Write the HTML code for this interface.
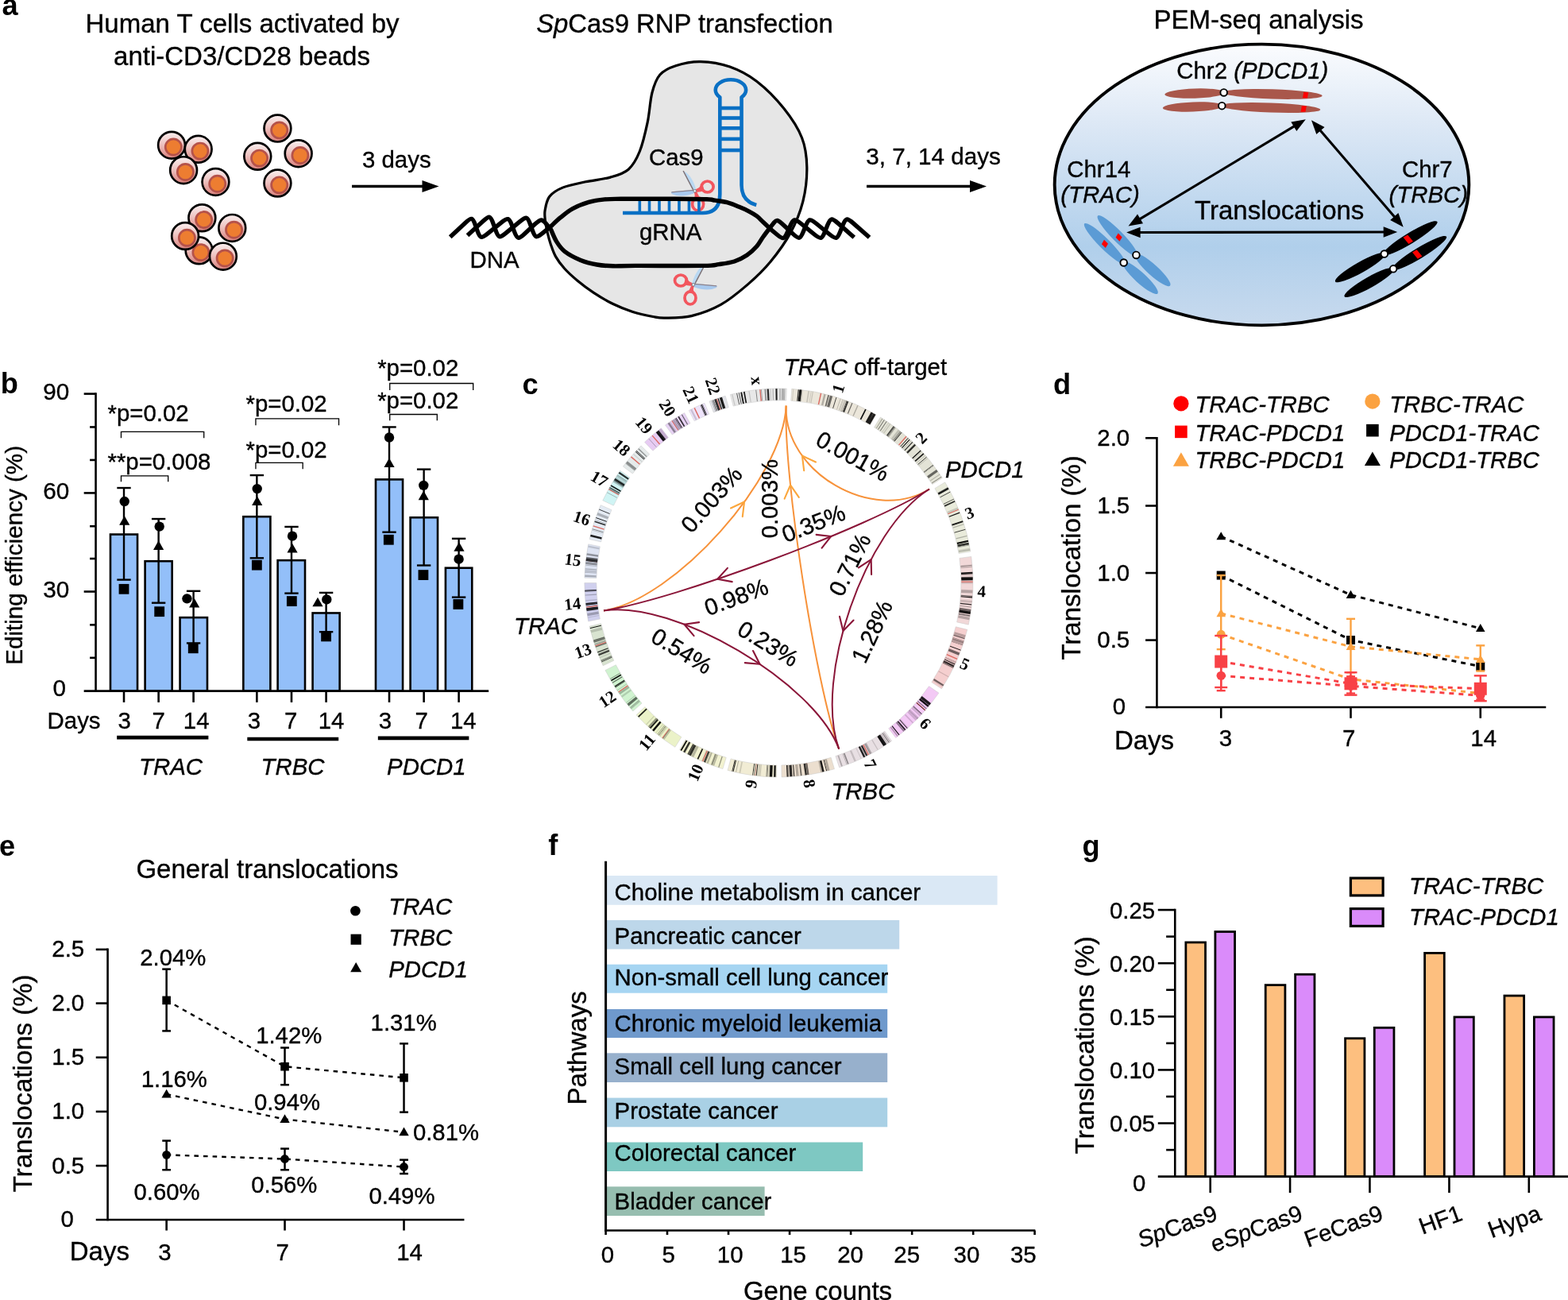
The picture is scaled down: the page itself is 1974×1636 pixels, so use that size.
<!DOCTYPE html>
<html lang="en"><head><meta charset="utf-8"><title>Figure</title>
<style>
html,body{margin:0;padding:0;background:#fff;}
body{width:1974px;height:1636px;overflow:hidden;}
svg{display:block;font-family:"Liberation Sans",Arial,Helvetica,sans-serif;}
text{stroke:#000;stroke-width:0.35px;}
.nb text,text.nb{stroke:none;}
</style></head><body>
<svg width="1974" height="1636" viewBox="0 0 1974 1636">
<rect width="1974" height="1636" fill="#fff"/>
<!-- panel a -->
<defs><linearGradient id="cg" x1="0" y1="0" x2="0" y2="1"><stop offset="0" stop-color="#faf0f0"/><stop offset="0.45" stop-color="#eec4c2"/><stop offset="1" stop-color="#d9807c"/></linearGradient><linearGradient id="eg" x1="0" y1="0" x2="0" y2="1"><stop offset="0" stop-color="#fbfcfe"/><stop offset="0.3" stop-color="#dbe7f5"/><stop offset="0.72" stop-color="#b0cfeb"/><stop offset="1" stop-color="#c8daee"/></linearGradient></defs>
<text x="2.5" y="19.3" font-size="36.2" font-weight="bold" class="nb">a</text>
<text x="305" y="41.3" font-size="33" text-anchor="middle">Human T cells activated by</text>
<text x="304.5" y="82.2" font-size="33" text-anchor="middle">anti-CD3/CD28 beads</text>
<circle cx="216.03" cy="182.71" r="16.9" fill="url(#cg)" stroke="#000" stroke-width="2.7"/>
<circle cx="218.33" cy="185.01" r="10.1" fill="#ed7d31" stroke="#b5524a" stroke-width="2.7"/>
<circle cx="249.65" cy="187.82" r="16.9" fill="url(#cg)" stroke="#000" stroke-width="2.7"/>
<circle cx="251.95" cy="190.12" r="10.1" fill="#ed7d31" stroke="#b5524a" stroke-width="2.7"/>
<circle cx="231.09" cy="214.17" r="16.9" fill="url(#cg)" stroke="#000" stroke-width="2.7"/>
<circle cx="233.39" cy="216.47" r="10.1" fill="#ed7d31" stroke="#b5524a" stroke-width="2.7"/>
<circle cx="271.43" cy="228.96" r="16.9" fill="url(#cg)" stroke="#000" stroke-width="2.7"/>
<circle cx="273.73" cy="231.26" r="10.1" fill="#ed7d31" stroke="#b5524a" stroke-width="2.7"/>
<circle cx="349.41" cy="161.6" r="16.9" fill="url(#cg)" stroke="#000" stroke-width="2.7"/>
<circle cx="351.71" cy="163.9" r="10.1" fill="#ed7d31" stroke="#b5524a" stroke-width="2.7"/>
<circle cx="324.27" cy="196.82" r="16.9" fill="url(#cg)" stroke="#000" stroke-width="2.7"/>
<circle cx="326.57" cy="199.12" r="10.1" fill="#ed7d31" stroke="#b5524a" stroke-width="2.7"/>
<circle cx="375.63" cy="193.19" r="16.9" fill="url(#cg)" stroke="#000" stroke-width="2.7"/>
<circle cx="377.93" cy="195.49" r="10.1" fill="#ed7d31" stroke="#b5524a" stroke-width="2.7"/>
<circle cx="349.41" cy="230.57" r="16.9" fill="url(#cg)" stroke="#000" stroke-width="2.7"/>
<circle cx="351.71" cy="232.87" r="10.1" fill="#ed7d31" stroke="#b5524a" stroke-width="2.7"/>
<circle cx="254.35" cy="274.27" r="16.9" fill="url(#cg)" stroke="#000" stroke-width="2.7"/>
<circle cx="256.65" cy="276.57" r="10.1" fill="#ed7d31" stroke="#b5524a" stroke-width="2.7"/>
<circle cx="250.59" cy="315.28" r="16.9" fill="url(#cg)" stroke="#000" stroke-width="2.7"/>
<circle cx="252.89" cy="317.58" r="10.1" fill="#ed7d31" stroke="#b5524a" stroke-width="2.7"/>
<circle cx="292.27" cy="286.91" r="16.9" fill="url(#cg)" stroke="#000" stroke-width="2.7"/>
<circle cx="294.57" cy="289.21" r="10.1" fill="#ed7d31" stroke="#b5524a" stroke-width="2.7"/>
<circle cx="233.11" cy="296.99" r="16.9" fill="url(#cg)" stroke="#000" stroke-width="2.7"/>
<circle cx="235.41" cy="299.29" r="10.1" fill="#ed7d31" stroke="#b5524a" stroke-width="2.7"/>
<circle cx="280.84" cy="322.67" r="16.9" fill="url(#cg)" stroke="#000" stroke-width="2.7"/>
<circle cx="283.14" cy="324.97" r="10.1" fill="#ed7d31" stroke="#b5524a" stroke-width="2.7"/>
<text x="456" y="210.5" font-size="29.4">3 days</text>
<line x1="443" y1="234.5" x2="535.7" y2="234.5" stroke="#000" stroke-width="3.4"/>
<path d="M552.5 234.5 L531.5 242 L531.5 227 Z" fill="#000"/>
<path d="M881.91 77.59 C893.26 77.83 906.97 79.95 918.79 84.11 C930.61 88.27 941.49 93.81 952.84 102.55 C964.18 111.3 977.42 124.78 986.88 136.6 C996.34 148.42 1004.75 161.18 1009.57 173.48 C1014.4 185.77 1015.58 197.12 1015.82 210.35 C1016.05 223.59 1014.4 239.2 1010.99 252.91 C1007.59 266.62 1002.25 279.86 995.39 292.62 C988.53 305.39 978.84 318.63 969.86 329.5 C960.87 340.38 951.89 348.89 941.49 357.87 C931.09 366.86 919.27 376.78 907.45 383.4 C895.63 390.02 882.28 394.81 870.57 397.59 C858.86 400.37 845.29 399.95 837.2 400.1 C829.11 400.25 828.77 399.77 822 398.5 C815.23 397.23 805.05 395.2 796.6 392.5 C788.15 389.8 779.57 386.37 771.3 382.3 C763.03 378.23 754.43 372.98 747 368.1 C739.57 363.22 732.78 358.05 726.7 353 C720.62 347.95 715.05 342.87 710.5 337.8 C705.95 332.73 702.27 327.67 699.4 322.6 C696.53 317.53 694.98 312.3 693.3 307.4 C691.62 302.5 690.47 298.27 689.3 293.2 C688.13 288.13 686.82 281.82 686.3 277 C685.78 272.18 685.25 269.22 686.17 264.26 C687.09 259.29 688.06 251.96 691.84 247.23 C695.63 242.51 701.3 238.96 708.87 235.89 C716.43 232.81 727.3 230.92 737.23 228.79 C747.16 226.67 759.46 225.72 768.44 223.12 C777.42 220.52 784.99 218.63 791.13 213.19 C797.28 207.75 801.3 200.43 805.32 190.5 C809.34 180.57 812.65 165.91 815.25 153.62 C817.85 141.32 818.32 126.67 820.92 116.74 C823.52 106.81 825.89 99.72 830.85 94.04 C835.82 88.37 842.2 85.44 850.71 82.7 C859.22 79.95 870.57 77.35 881.91 77.59 Z" fill="#e6e6e6" stroke="#000" stroke-width="3.2"/>
<g transform="translate(874.7 240.3)">
<path d="M-1 -1.5 L-29.1 0.9 Q-30.8 2 -28.6 3.9 Q-17 8.8 -1 2.9 Z" fill="#a8c9ee"/>
<path d="M-1 -1.5 L-29.1 0.9 L-29.5 2.1 L-1 -0.2 Z" fill="#8d8088"/>
<path d="M-2.8 -1.2 L-15.2 -25 C-9 -24.4 -1.6 -14 1.6 -1.6 Z" fill="#b9d8f2"/>
<path d="M-2.8 -1.2 L-15.2 -25 L-13.9 -25.5 L-1.4 -1.7 Z" fill="#7f7072"/>
<path d="M1.5 -2.2 Q6 -3.5 9.5 -9.5 L12 -0.6 Q6 2 1 1.2 Z" fill="#f2565e"/>
<ellipse cx="15.9" cy="-5.3" rx="7.5" ry="7" fill="none" stroke="#f2565e" stroke-width="3.7"/>
<path d="M-1 2 Q1.5 6 -2.2 11 L7 10 Q4.4 5 2.6 1.2 Z" fill="#f2565e"/>
<ellipse cx="3.9" cy="16.6" rx="7" ry="8.1" fill="none" stroke="#f2565e" stroke-width="3.7"/>
<circle cx="0" cy="0" r="1.8" fill="#eef3f8" stroke="#5d6770" stroke-width="0.8"/>
</g>
<g transform="translate(872.9 358.3) scale(-1,1)">
<path d="M-1 -1.5 L-29.1 0.9 Q-30.8 2 -28.6 3.9 Q-17 8.8 -1 2.9 Z" fill="#a8c9ee"/>
<path d="M-1 -1.5 L-29.1 0.9 L-29.5 2.1 L-1 -0.2 Z" fill="#8d8088"/>
<path d="M-2.8 -1.2 L-15.2 -25 C-9 -24.4 -1.6 -14 1.6 -1.6 Z" fill="#b9d8f2"/>
<path d="M-2.8 -1.2 L-15.2 -25 L-13.9 -25.5 L-1.4 -1.7 Z" fill="#7f7072"/>
<path d="M1.5 -2.2 Q6 -3.5 9.5 -9.5 L12 -0.6 Q6 2 1 1.2 Z" fill="#f2565e"/>
<ellipse cx="15.9" cy="-5.3" rx="7.5" ry="7" fill="none" stroke="#f2565e" stroke-width="3.7"/>
<path d="M-1 2 Q1.5 6 -2.2 11 L7 10 Q4.4 5 2.6 1.2 Z" fill="#f2565e"/>
<ellipse cx="3.9" cy="16.6" rx="7" ry="8.1" fill="none" stroke="#f2565e" stroke-width="3.7"/>
<circle cx="0" cy="0" r="1.8" fill="#eef3f8" stroke="#5d6770" stroke-width="0.8"/>
</g>
<line x1="906.31" y1="136.03" x2="933.55" y2="136.03" stroke="#0a70c4" stroke-width="4.6"/>
<line x1="906.31" y1="148.51" x2="933.55" y2="148.51" stroke="#0a70c4" stroke-width="4.6"/>
<line x1="906.31" y1="161.28" x2="933.55" y2="161.28" stroke="#0a70c4" stroke-width="4.6"/>
<line x1="906.31" y1="174.89" x2="933.55" y2="174.89" stroke="#0a70c4" stroke-width="4.6"/>
<line x1="906.31" y1="189.08" x2="933.55" y2="189.08" stroke="#0a70c4" stroke-width="4.6"/>
<path d="M784.04 267.94 L884.75 267.94 Q906.31 267.94 906.31 244.4 L906.31 122.29 A19.2 12.9 0 1 1 933.55 122.29 L933.55 233.05 Q933.55 252.91 952.27 258.01" fill="none" stroke="#0a70c4" stroke-width="4.6" stroke-linejoin="round"/>
<line x1="805.32" y1="249.5" x2="805.32" y2="267.94" stroke="#0a70c4" stroke-width="3.6"/>
<line x1="817.52" y1="249.5" x2="817.52" y2="267.94" stroke="#0a70c4" stroke-width="3.6"/>
<line x1="830" y1="249.5" x2="830" y2="267.94" stroke="#0a70c4" stroke-width="3.6"/>
<line x1="842.48" y1="249.5" x2="842.48" y2="267.94" stroke="#0a70c4" stroke-width="3.6"/>
<line x1="854.96" y1="249.5" x2="854.96" y2="267.94" stroke="#0a70c4" stroke-width="3.6"/>
<line x1="867.45" y1="249.5" x2="867.45" y2="267.94" stroke="#0a70c4" stroke-width="3.6"/>
<line x1="879.93" y1="249.5" x2="879.93" y2="267.94" stroke="#0a70c4" stroke-width="3.6"/>
<path d="M588.5 296.23 L608.2 278.28 C616.19 271 617.47 271.32 621.05 281.52 L623.84 289.47 C627.41 299.66 628.74 300.03 637.07 293.15 L654.42 278.84 C662.75 271.97 664.08 272.34 667.67 282.52 L670.12 289.47 C673.71 299.66 675.04 300.03 683.39 293.18 L693.6 284.8 C695.62 282.95 701.15 277.4 705.7 273.7 C710.25 270 714.98 265.82 720.9 262.6 C726.82 259.38 734.45 256.35 741.2 254.4 C747.95 252.45 754.65 251.58 761.4 250.9 C768.15 250.22 766.93 250.4 781.7 250.3 C796.47 250.2 831.95 250.22 850 250.3 C868.05 250.38 881.67 250.48 890 250.8 C898.33 251.12 895.8 251.55 900 252.2 C904.2 252.85 910.13 253.35 915.2 254.7 C920.27 256.05 925.83 258.45 930.4 260.3 C934.97 262.15 938.88 263.87 942.6 265.8 C946.32 267.73 949.67 269.62 952.7 271.9 C955.73 274.18 957.77 276.63 960.8 279.5 C963.83 282.37 969.22 287.5 970.9 289.1 L978.92 295.71 C986.13 301.65 987.41 301.21 991.72 291.31 L994.5 284.94 C998.81 275.04 1000.22 274.7 1008.61 281.5 L1024.93 294.75 C1033.31 301.55 1034.69 301.19 1038.67 291.16 L1041.47 284.08 C1045.45 274.04 1046.8 273.72 1054.91 280.85 L1075.28 298.76" fill="none" stroke="#000" stroke-width="5.4" stroke-linejoin="round"/>
<path d="M566.72 298.26 L585.81 280.41 C593.7 273.04 594.97 273.35 598.53 283.55 L600.76 289.97 C604.32 300.16 605.65 300.54 614.06 293.78 L631.02 280.14 C639.44 273.38 640.8 273.75 644.63 283.85 L647.37 291.09 C651.2 301.19 652.5 301.49 660.43 294.16 L672.91 282.6 C680.83 275.26 682.31 275.17 687.66 281.67 L693.6 288.9 C694.78 291.43 697.83 299.53 700.7 304.1 C703.57 308.67 705.75 312.42 710.8 316.3 C715.85 320.18 724.25 324.62 731 327.4 C737.75 330.18 744.53 331.77 751.3 333 C758.07 334.23 763.48 334.57 771.6 334.8 C779.72 335.03 781.1 334.47 800 334.4 C818.9 334.33 867.5 334.7 885 334.4 C902.5 334.1 898.42 333.5 905 332.6 C911.58 331.7 918.58 330.93 924.5 329 C930.42 327.07 935.8 324.17 940.5 321 C945.2 317.83 949.32 313.83 952.7 310 C956.08 306.17 957.77 302.23 960.8 298 C963.83 293.77 969.22 286.83 970.9 284.6 L974.56 280.03 C977.85 275.92 979.09 276.28 986.98 283.66 L998.13 294.11 C1006.01 301.49 1007.35 301.2 1011.45 291.21 L1013.98 285.04 C1018.09 275.05 1019.47 274.7 1027.86 281.5 L1044.18 294.75 C1052.56 301.55 1053.94 301.19 1057.92 291.16 L1060.72 284.08 C1064.7 274.04 1066.05 273.72 1074.16 280.85 L1094.53 298.76" fill="none" stroke="#000" stroke-width="5.4" stroke-linejoin="round"/>
<text x="675.2" y="41.3" font-size="32.85"><tspan font-style="italic">Sp</tspan>Cas9 RNP transfection</text>
<text x="817" y="207.5" font-size="29.4">Cas9</text>
<text x="805" y="302.2" font-size="29.4">gRNA</text>
<text x="591.5" y="336.5" font-size="29.4">DNA</text>
<text x="1090.3" y="207.3" font-size="29.6">3, 7, 14 days</text>
<line x1="1091" y1="234.5" x2="1225.2" y2="234.5" stroke="#000" stroke-width="3.4"/>
<path d="M1242 234.5 L1221 242 L1221 227 Z" fill="#000"/>
<text x="1452.4" y="35.5" font-size="33">PEM-seq analysis</text>
<ellipse cx="1588.49" cy="232.5" rx="260.84" ry="176.85" fill="url(#eg)" stroke="#000" stroke-width="3.9"/>
<text x="1481.3" y="99" font-size="29.4">Chr2 <tspan font-style="italic">(PDCD1)</tspan></text>
<ellipse cx="36.43" cy="0" rx="38.03" ry="6.1" fill="#a9574b" transform="translate(1540.7 116.42) rotate(178.16)"/>
<ellipse cx="61.2" cy="0" rx="62.8" ry="6.1" fill="#a9574b" transform="translate(1540.7 116.42) rotate(1.89)"/>
<rect x="99.92" y="-3.66" width="6" height="7.32" fill="#ff0000" transform="translate(1540.7 116.42) rotate(1.89) skewX(-8)"/>
<circle cx="1540.7" cy="116.42" r="4.3" fill="#fff" stroke="#000" stroke-width="1.9"/>
<ellipse cx="36.44" cy="0" rx="38.04" ry="6.1" fill="#a9574b" transform="translate(1538.31 133.15) rotate(177.9)"/>
<ellipse cx="61.21" cy="0" rx="62.81" ry="6.1" fill="#a9574b" transform="translate(1538.31 133.15) rotate(2.21)"/>
<rect x="99.94" y="-3.66" width="6" height="7.32" fill="#ff0000" transform="translate(1538.31 133.15) rotate(2.21) skewX(-8)"/>
<circle cx="1538.31" cy="133.15" r="4.3" fill="#fff" stroke="#000" stroke-width="1.9"/>
<ellipse cx="27.96" cy="0" rx="29.56" ry="6.75" fill="#5b9bd5" transform="translate(1430.42 320.93) rotate(42.11)"/>
<ellipse cx="33.85" cy="0" rx="35.45" ry="6.75" fill="#5b9bd5" transform="translate(1430.42 320.93) rotate(-134.4)"/>
<rect x="27.68" y="-3.04" width="7" height="6.08" fill="#ff0000" transform="translate(1430.42 320.93) rotate(-134.4) skewX(15)"/>
<circle cx="1430.42" cy="320.93" r="4.3" fill="#fff" stroke="#000" stroke-width="1.9"/>
<ellipse cx="28.08" cy="0" rx="29.68" ry="6.75" fill="#5b9bd5" transform="translate(1414.71 330.49) rotate(42.36)"/>
<ellipse cx="34.08" cy="0" rx="35.68" ry="6.75" fill="#5b9bd5" transform="translate(1414.71 330.49) rotate(-135.2)"/>
<rect x="29.99" y="-3.04" width="7" height="6.08" fill="#ff0000" transform="translate(1414.71 330.49) rotate(-135.2) skewX(15)"/>
<circle cx="1414.71" cy="330.49" r="4.3" fill="#fff" stroke="#000" stroke-width="1.9"/>
<ellipse cx="34.67" cy="0" rx="36.27" ry="6.75" fill="#000" transform="translate(1742.81 319.56) rotate(150.6)"/>
<ellipse cx="38.2" cy="0" rx="39.8" ry="6.75" fill="#000" transform="translate(1742.81 319.56) rotate(-31.39)"/>
<rect x="31.85" y="-5.27" width="6.5" height="10.53" fill="#ff0000" transform="translate(1742.81 319.56) rotate(-31.39) skewX(8)"/>
<circle cx="1742.81" cy="319.56" r="4.3" fill="#fff" stroke="#000" stroke-width="1.9"/>
<ellipse cx="34.52" cy="0" rx="36.12" ry="6.75" fill="#000" transform="translate(1754.08 338.34) rotate(150.46)"/>
<ellipse cx="38.34" cy="0" rx="39.94" ry="6.75" fill="#000" transform="translate(1754.08 338.34) rotate(-31.26)"/>
<rect x="31.98" y="-5.27" width="6.5" height="10.53" fill="#ff0000" transform="translate(1754.08 338.34) rotate(-31.26) skewX(8)"/>
<circle cx="1754.08" cy="338.34" r="4.3" fill="#fff" stroke="#000" stroke-width="1.9"/>
<line x1="1432.52" y1="277.19" x2="1631.8" y2="157.43" stroke="#000" stroke-width="3.1"/>
<path d="M1643.8 150.22 L1632.28 165.02 L1625.33 153.45 Z" fill="#000"/>
<path d="M1420.52 284.4 L1432.04 269.6 L1439 281.17 Z" fill="#000"/>
<line x1="1660.1" y1="161.86" x2="1757.58" y2="275.15" stroke="#000" stroke-width="3.1"/>
<path d="M1766.71 285.76 L1750.18 276.9 L1760.42 268.1 Z" fill="#000"/>
<path d="M1650.97 151.25 L1667.5 160.11 L1657.27 168.91 Z" fill="#000"/>
<line x1="1432.13" y1="292.56" x2="1745.2" y2="291.94" stroke="#000" stroke-width="3.1"/>
<path d="M1759.2 291.91 L1741.71 298.69 L1741.69 285.19 Z" fill="#000"/>
<path d="M1418.13 292.59 L1435.62 285.81 L1435.64 299.31 Z" fill="#000"/>
<text x="1343.3" y="222.5" font-size="29.4">Chr14</text>
<text x="1335.3" y="255.3" font-size="29.4" font-style="italic">(TRAC)</text>
<text x="1765" y="222.5" font-size="29.4">Chr7</text>
<text x="1748.5" y="255.3" font-size="29.4" font-style="italic">(TRBC)</text>
<text x="1504" y="276" font-size="33">Translocations</text>
<!-- panel b -->
<text x="0.8" y="495.3" font-size="36.2" font-weight="bold" class="nb">b</text>
<rect x="138.98" y="672.53" width="34.06" height="197.14" fill="#93bff9" stroke="#000" stroke-width="2.6"/>
<rect x="182.6" y="706.21" width="34.06" height="163.46" fill="#93bff9" stroke="#000" stroke-width="2.6"/>
<rect x="226.56" y="777.13" width="34.41" height="92.54" fill="#93bff9" stroke="#000" stroke-width="2.6"/>
<rect x="306.34" y="650.19" width="34.06" height="219.48" fill="#93bff9" stroke="#000" stroke-width="2.6"/>
<rect x="349.6" y="705.15" width="34.41" height="164.52" fill="#93bff9" stroke="#000" stroke-width="2.6"/>
<rect x="393.57" y="771.45" width="34.06" height="98.22" fill="#93bff9" stroke="#000" stroke-width="2.6"/>
<rect x="472.99" y="603.39" width="34.06" height="266.28" fill="#93bff9" stroke="#000" stroke-width="2.6"/>
<rect x="516.6" y="651.25" width="34.41" height="218.42" fill="#93bff9" stroke="#000" stroke-width="2.6"/>
<rect x="560.92" y="714.72" width="33.35" height="154.95" fill="#93bff9" stroke="#000" stroke-width="2.6"/>
<line x1="156.01" y1="614.02" x2="156.01" y2="729.61" stroke="#000" stroke-width="2.4"/>
<line x1="147.32" y1="614.02" x2="164.7" y2="614.02" stroke="#000" stroke-width="2.4"/>
<line x1="147.32" y1="729.61" x2="164.7" y2="729.61" stroke="#000" stroke-width="2.4"/>
<line x1="199.62" y1="653.03" x2="199.62" y2="758.69" stroke="#000" stroke-width="2.4"/>
<line x1="190.94" y1="653.03" x2="208.31" y2="653.03" stroke="#000" stroke-width="2.4"/>
<line x1="190.94" y1="758.69" x2="208.31" y2="758.69" stroke="#000" stroke-width="2.4"/>
<line x1="243.59" y1="743.8" x2="243.59" y2="809.39" stroke="#000" stroke-width="2.4"/>
<line x1="234.9" y1="743.8" x2="252.28" y2="743.8" stroke="#000" stroke-width="2.4"/>
<line x1="234.9" y1="809.39" x2="252.28" y2="809.39" stroke="#000" stroke-width="2.4"/>
<line x1="323.37" y1="598.07" x2="323.37" y2="702.31" stroke="#000" stroke-width="2.4"/>
<line x1="314.68" y1="598.07" x2="332.06" y2="598.07" stroke="#000" stroke-width="2.4"/>
<line x1="314.68" y1="702.31" x2="332.06" y2="702.31" stroke="#000" stroke-width="2.4"/>
<line x1="366.98" y1="662.95" x2="366.98" y2="746.63" stroke="#000" stroke-width="2.4"/>
<line x1="358.3" y1="662.95" x2="375.67" y2="662.95" stroke="#000" stroke-width="2.4"/>
<line x1="358.3" y1="746.63" x2="375.67" y2="746.63" stroke="#000" stroke-width="2.4"/>
<line x1="410.59" y1="745.92" x2="410.59" y2="795.21" stroke="#000" stroke-width="2.4"/>
<line x1="401.91" y1="745.92" x2="419.28" y2="745.92" stroke="#000" stroke-width="2.4"/>
<line x1="401.91" y1="795.21" x2="419.28" y2="795.21" stroke="#000" stroke-width="2.4"/>
<line x1="490.02" y1="537.44" x2="490.02" y2="669.69" stroke="#000" stroke-width="2.4"/>
<line x1="481.33" y1="537.44" x2="498.71" y2="537.44" stroke="#000" stroke-width="2.4"/>
<line x1="481.33" y1="669.69" x2="498.71" y2="669.69" stroke="#000" stroke-width="2.4"/>
<line x1="533.63" y1="590.62" x2="533.63" y2="711.53" stroke="#000" stroke-width="2.4"/>
<line x1="524.94" y1="590.62" x2="542.32" y2="590.62" stroke="#000" stroke-width="2.4"/>
<line x1="524.94" y1="711.53" x2="542.32" y2="711.53" stroke="#000" stroke-width="2.4"/>
<line x1="577.6" y1="677.85" x2="577.6" y2="751.6" stroke="#000" stroke-width="2.4"/>
<line x1="568.91" y1="677.85" x2="586.29" y2="677.85" stroke="#000" stroke-width="2.4"/>
<line x1="568.91" y1="751.6" x2="586.29" y2="751.6" stroke="#000" stroke-width="2.4"/>
<circle cx="156.72" cy="631.04" r="6.2" fill="#000"/>
<path d="M156.72 649.16 L163.32 660.71 L150.12 660.71 Z" fill="#000"/>
<rect x="149.61" y="734.91" width="12.8" height="12.8" fill="#000"/>
<circle cx="200.69" cy="662.6" r="6.2" fill="#000"/>
<path d="M199.62 680.37 L206.22 691.92 L193.02 691.92 Z" fill="#000"/>
<rect x="194.29" y="763.28" width="12.8" height="12.8" fill="#000"/>
<circle cx="235.44" cy="753.37" r="6.2" fill="#000"/>
<path d="M244.65 753.05 L251.25 764.6 L238.05 764.6 Z" fill="#000"/>
<rect x="236.84" y="809.37" width="12.8" height="12.8" fill="#000"/>
<circle cx="323.72" cy="615.09" r="6.2" fill="#000"/>
<path d="M323.72 624.34 L330.32 635.89 L317.12 635.89 Z" fill="#000"/>
<rect x="316.97" y="704.78" width="12.8" height="12.8" fill="#000"/>
<circle cx="368.05" cy="674.65" r="6.2" fill="#000"/>
<path d="M368.05 683.91 L374.65 695.46 L361.45 695.46 Z" fill="#000"/>
<rect x="360.94" y="750.16" width="12.8" height="12.8" fill="#000"/>
<path d="M399.96 751.63 L406.56 763.18 L393.36 763.18 Z" fill="#000"/>
<circle cx="411.3" cy="754.43" r="6.2" fill="#000"/>
<rect x="404.19" y="794.48" width="12.8" height="12.8" fill="#000"/>
<circle cx="490.02" cy="550.55" r="6.2" fill="#000"/>
<path d="M490.02 576.48 L496.62 588.03 L483.42 588.03 Z" fill="#000"/>
<rect x="482.91" y="672.86" width="12.8" height="12.8" fill="#000"/>
<circle cx="533.28" cy="610.83" r="6.2" fill="#000"/>
<path d="M533.28 617.61 L539.88 629.16 L526.68 629.16 Z" fill="#000"/>
<rect x="526.52" y="717.19" width="12.8" height="12.8" fill="#000"/>
<path d="M577.95 682.14 L584.55 693.69 L571.35 693.69 Z" fill="#000"/>
<circle cx="577.6" cy="703.73" r="6.2" fill="#000"/>
<rect x="570.49" y="754.06" width="12.8" height="12.8" fill="#000"/>
<line x1="120.55" y1="494.3" x2="120.55" y2="870.97" stroke="#000" stroke-width="2.6"/>
<line x1="105.66" y1="869.67" x2="615.18" y2="869.67" stroke="#000" stroke-width="2.6"/>
<line x1="105.66" y1="495.6" x2="120.55" y2="495.6" stroke="#000" stroke-width="2.6"/>
<line x1="113.11" y1="537.44" x2="120.55" y2="537.44" stroke="#000" stroke-width="2.6"/>
<line x1="113.11" y1="578.92" x2="120.55" y2="578.92" stroke="#000" stroke-width="2.6"/>
<line x1="105.66" y1="620.41" x2="120.55" y2="620.41" stroke="#000" stroke-width="2.6"/>
<line x1="113.11" y1="662.24" x2="120.55" y2="662.24" stroke="#000" stroke-width="2.6"/>
<line x1="113.11" y1="703.02" x2="120.55" y2="703.02" stroke="#000" stroke-width="2.6"/>
<line x1="105.66" y1="744.51" x2="120.55" y2="744.51" stroke="#000" stroke-width="2.6"/>
<line x1="113.11" y1="786.35" x2="120.55" y2="786.35" stroke="#000" stroke-width="2.6"/>
<line x1="113.11" y1="827.83" x2="120.55" y2="827.83" stroke="#000" stroke-width="2.6"/>
<line x1="156.01" y1="869.67" x2="156.01" y2="883.85" stroke="#000" stroke-width="2.6"/>
<line x1="199.62" y1="869.67" x2="199.62" y2="883.85" stroke="#000" stroke-width="2.6"/>
<line x1="243.59" y1="869.67" x2="243.59" y2="883.85" stroke="#000" stroke-width="2.6"/>
<line x1="323.37" y1="869.67" x2="323.37" y2="883.85" stroke="#000" stroke-width="2.6"/>
<line x1="366.98" y1="869.67" x2="366.98" y2="883.85" stroke="#000" stroke-width="2.6"/>
<line x1="410.59" y1="869.67" x2="410.59" y2="883.85" stroke="#000" stroke-width="2.6"/>
<line x1="490.02" y1="869.67" x2="490.02" y2="883.85" stroke="#000" stroke-width="2.6"/>
<line x1="533.63" y1="869.67" x2="533.63" y2="883.85" stroke="#000" stroke-width="2.6"/>
<line x1="577.6" y1="869.67" x2="577.6" y2="883.85" stroke="#000" stroke-width="2.6"/>
<text x="87.33" y="503" font-size="29.7" text-anchor="end">90</text>
<text x="87.33" y="627.81" font-size="29.7" text-anchor="end">60</text>
<text x="87.33" y="751.91" font-size="29.7" text-anchor="end">30</text>
<text x="83.03" y="876.01" font-size="29.7" text-anchor="end">0</text>
<text text-anchor="middle" transform="translate(28.4 698.9) rotate(-90)" font-size="29.6">Editing efficiency (%)</text>
<text x="135.45" y="530.34" font-size="29.4">*p=0.02</text>
<path d="M152.47 551.26 L152.47 543.46 L256.71 543.46 L256.71 551.26" fill="none" stroke="#000" stroke-width="1.3"/>
<text x="135.45" y="591.33" font-size="29.4">**p=0.008</text>
<path d="M152.47 606.22 L152.47 598.78 L211.68 598.78 L211.68 606.22" fill="none" stroke="#000" stroke-width="1.3"/>
<text x="309.54" y="517.93" font-size="29.4">*p=0.02</text>
<path d="M321.95 535.31 L321.95 526.8 L426.55 526.8 L426.55 535.31" fill="none" stroke="#000" stroke-width="1.3"/>
<text x="309.54" y="576.08" font-size="29.4">*p=0.02</text>
<path d="M321.95 590.27 L321.95 582.47 L381.17 582.47 L381.17 590.27" fill="none" stroke="#000" stroke-width="1.3"/>
<text x="475.13" y="472.55" font-size="29.4">*p=0.02</text>
<path d="M490.73 490.99 L490.73 482.48 L595.68 482.48 L595.68 490.99" fill="none" stroke="#000" stroke-width="1.3"/>
<text x="475.13" y="514.39" font-size="29.4">*p=0.02</text>
<path d="M490.73 529.28 L490.73 521.48 L550.3 521.48 L550.3 529.28" fill="none" stroke="#000" stroke-width="1.3"/>
<text x="59.57" y="917.27" font-size="29.4">Days</text>
<text x="156.72" y="917.27" font-size="29.4" text-anchor="middle">3</text>
<text x="199.62" y="917.27" font-size="29.4" text-anchor="middle">7</text>
<text x="247.14" y="917.27" font-size="29.4" text-anchor="middle">14</text>
<text x="319.82" y="917.27" font-size="29.4" text-anchor="middle">3</text>
<text x="366.27" y="917.27" font-size="29.4" text-anchor="middle">7</text>
<text x="416.98" y="917.27" font-size="29.4" text-anchor="middle">14</text>
<text x="485.05" y="917.27" font-size="29.4" text-anchor="middle">3</text>
<text x="530.79" y="917.27" font-size="29.4" text-anchor="middle">7</text>
<text x="583.27" y="917.27" font-size="29.4" text-anchor="middle">14</text>
<line x1="147.15" y1="928.17" x2="262.38" y2="928.17" stroke="#000" stroke-width="4.6"/>
<line x1="311.31" y1="929.95" x2="426.2" y2="929.95" stroke="#000" stroke-width="4.6"/>
<line x1="475.84" y1="928.88" x2="590.36" y2="928.88" stroke="#000" stroke-width="4.6"/>
<text x="175.02" y="975.07" font-size="29.4" font-style="italic">TRAC</text>
<text x="328.55" y="975.07" font-size="29.4" font-style="italic">TRBC</text>
<text x="487.05" y="975.07" font-size="29.4" font-style="italic">PDCD1</text>
<!-- panel c -->
<text x="657.5" y="496.3" font-size="36.2" font-weight="bold" class="nb">c</text>
<text x="986.8" y="472.4" font-size="29.4"><tspan font-style="italic">TRAC</tspan> off-target</text>
<g class="nb" font-family="Liberation Serif,serif" font-weight="bold" font-size="21">
<path d="M996.7 489.34A244.6 244.6 0 0 1 1102.88 521.68L1095.37 534.66A229.6 229.6 0 0 0 995.7 504.31Z" fill="#ebe6da" stroke="#c8c8c8" stroke-width="0.5"/>
<text transform="translate(1053.34 493.86) rotate(-73.06)" text-anchor="start" dy="7.4">1</text>
<path d="M1108.39 524.96A244.6 244.6 0 0 1 1186.35 601.44L1173.72 609.53A229.6 229.6 0 0 0 1100.54 537.74Z" fill="#e3e3d6" stroke="#c8c8c8" stroke-width="0.5"/>
<text transform="translate(1155.75 554.65) rotate(-45.55)" text-anchor="start" dy="7.4">2</text>
<path d="M1189.73 606.87A244.6 244.6 0 0 1 1221.82 694.08L1207.01 696.49A229.6 229.6 0 0 0 1176.9 614.63Z" fill="#e9ebdb" stroke="#c8c8c8" stroke-width="0.5"/>
<text transform="translate(1215.4 646.94) rotate(-20.2)" text-anchor="start" dy="7.4">3</text>
<path d="M1222.77 700.42A244.6 244.6 0 0 1 1219.25 786.13L1204.6 782.9A229.6 229.6 0 0 0 1207.9 702.44Z" fill="#f1d8d8" stroke="#c8c8c8" stroke-width="0.5"/>
<text transform="translate(1230.59 743.67) rotate(2.35)" text-anchor="start" dy="7.4">4</text>
<path d="M1217.79 792.37A244.6 244.6 0 0 1 1185.42 866.8L1172.85 858.62A229.6 229.6 0 0 0 1203.23 788.75Z" fill="#f5cfcf" stroke="#c8c8c8" stroke-width="0.5"/>
<text transform="translate(1210.03 833.25) rotate(23.5)" text-anchor="start" dy="7.4">5</text>
<path d="M1181.86 872.12A244.6 244.6 0 0 1 1127.77 928.62L1118.74 916.65A229.6 229.6 0 0 0 1169.51 863.61Z" fill="#f3c9f5" stroke="#c8c8c8" stroke-width="0.5"/>
<text transform="translate(1161.28 906.55) rotate(43.75)" text-anchor="start" dy="7.4">6</text>
<path d="M1122.61 932.41A244.6 244.6 0 0 1 1056.59 965.83L1051.92 951.58A229.6 229.6 0 0 0 1113.89 920.2Z" fill="#e8dfe3" stroke="#c8c8c8" stroke-width="0.5"/>
<text transform="translate(1093.49 956.8) rotate(63.15)" text-anchor="start" dy="7.4">7</text>
<path d="M1050.48 967.74A244.6 244.6 0 0 1 984.03 977.97L983.81 962.97A229.6 229.6 0 0 0 1046.19 953.37Z" fill="#ecdfcf" stroke="#c8c8c8" stroke-width="0.5"/>
<text transform="translate(1018.49 980.89) rotate(81.25)" text-anchor="start" dy="7.4">8</text>
<path d="M977.63 977.98A244.6 244.6 0 0 1 916.06 969.39L920.01 954.92A229.6 229.6 0 0 0 977.8 962.99Z" fill="#f1ecd4" stroke="#c8c8c8" stroke-width="0.5"/>
<text transform="translate(945.77 981.39) rotate(277.95)" text-anchor="end" dy="7.4">9</text>
<path d="M909.91 967.62A244.6 244.6 0 0 1 855.34 943.61L863.01 930.72A229.6 229.6 0 0 0 914.23 953.26Z" fill="#f2f2d0" stroke="#c8c8c8" stroke-width="0.5"/>
<text transform="translate(879.55 962.59) rotate(293.75)" text-anchor="end" dy="7.4">10</text>
<path d="M849.88 940.27A244.6 244.6 0 0 1 801.07 899.75L812.07 889.55A229.6 229.6 0 0 0 857.88 927.58Z" fill="#ebf2c8" stroke="#c8c8c8" stroke-width="0.5"/>
<text transform="translate(820.45 926.06) rotate(309.7)" text-anchor="end" dy="7.4">11</text>
<path d="M796.78 895A244.6 244.6 0 0 1 761.98 843.49L775.37 836.74A229.6 229.6 0 0 0 808.04 885.09Z" fill="#d0f3d0" stroke="#c8c8c8" stroke-width="0.5"/>
<text transform="translate(772.93 873.6) rotate(325.95)" text-anchor="end" dy="7.4">12</text>
<path d="M759.17 837.74A244.6 244.6 0 0 1 742.02 788.22L756.64 784.85A229.6 229.6 0 0 0 772.74 831.34Z" fill="#d8e3d0" stroke="#c8c8c8" stroke-width="0.5"/>
<text transform="translate(743.78 815.34) rotate(340.9)" text-anchor="end" dy="7.4">13</text>
<path d="M740.67 781.96A244.6 244.6 0 0 1 735.8 733.61L750.8 733.6A229.6 229.6 0 0 0 755.37 778.98Z" fill="#d0d0ee" stroke="#c8c8c8" stroke-width="0.5"/>
<text transform="translate(731.26 758.49) rotate(354.25)" text-anchor="end" dy="7.4">14</text>
<path d="M735.88 727.21A244.6 244.6 0 0 1 740.67 684.84L755.37 687.82A229.6 229.6 0 0 0 750.87 727.59Z" fill="#dee4f3" stroke="#c8c8c8" stroke-width="0.5"/>
<text transform="translate(731.58 705.27) rotate(366.45)" text-anchor="end" dy="7.4">15</text>
<path d="M742.02 678.58A244.6 244.6 0 0 1 756.17 635.67L769.92 641.66A229.6 229.6 0 0 0 756.64 681.95Z" fill="#e4ebf4" stroke="#c8c8c8" stroke-width="0.5"/>
<text transform="translate(742.6 654.98) rotate(378.25)" text-anchor="end" dy="7.4">16</text>
<path d="M758.81 629.83A244.6 244.6 0 0 1 780.65 592.23L792.9 600.89A229.6 229.6 0 0 0 772.4 636.19Z" fill="#d0f4f4" stroke="#c8c8c8" stroke-width="0.5"/>
<text transform="translate(763.88 607.63) rotate(390.15)" text-anchor="end" dy="7.4">17</text>
<path d="M784.41 587.05A244.6 244.6 0 0 1 806.99 560.9L817.62 571.47A229.6 229.6 0 0 0 796.43 596.02Z" fill="#e6ebeb" stroke="#c8c8c8" stroke-width="0.5"/>
<text transform="translate(790.85 569.78) rotate(400.8)" text-anchor="end" dy="7.4">18</text>
<path d="M811.56 556.41A244.6 244.6 0 0 1 832.35 538.7L841.42 550.64A229.6 229.6 0 0 0 821.92 567.27Z" fill="#e7ccf3" stroke="#c8c8c8" stroke-width="0.5"/>
<text transform="translate(817.94 542.85) rotate(409.55)" text-anchor="end" dy="7.4">19</text>
<path d="M837.49 534.89A244.6 244.6 0 0 1 861.63 519.57L868.91 532.68A229.6 229.6 0 0 0 846.26 547.06Z" fill="#e7d2f4" stroke="#c8c8c8" stroke-width="0.5"/>
<text transform="translate(846.23 521.98) rotate(417.6)" text-anchor="end" dy="7.4">20</text>
<path d="M867.27 516.54A244.6 244.6 0 0 1 886.99 507.34L892.72 521.2A229.6 229.6 0 0 0 874.2 529.83Z" fill="#eee4fb" stroke="#c8c8c8" stroke-width="0.5"/>
<text transform="translate(874.58 506.46) rotate(425)" text-anchor="end" dy="7.4">21</text>
<path d="M892.94 504.97A244.6 244.6 0 0 1 913.18 498.22L917.31 512.64A229.6 229.6 0 0 0 898.31 518.98Z" fill="#e2e3e8" stroke="#c8c8c8" stroke-width="0.5"/>
<text transform="translate(901.15 495.87) rotate(431.55)" text-anchor="end" dy="7.4">22</text>
<path d="M919.36 496.54A244.6 244.6 0 0 1 990.3 489L989.69 503.99A229.6 229.6 0 0 0 923.11 511.06Z" fill="#e8e8e8" stroke="#c8c8c8" stroke-width="0.5"/>
<text transform="translate(953.94 484.4) rotate(443.94)" text-anchor="end" dy="7.4">x</text>
<path d="M1046.59 498.24L1042.69 512.1M1018.13 492.03L1015.91 506.26" stroke="#c7c3b9" stroke-width="1.7" fill="none"/>
<path d="M1046.53 498.22L1042.63 512.08" stroke="#696762" stroke-width="3.3" fill="none"/>
<path d="M1064.96 504.2L1059.98 517.71" stroke="#2f2e2b" stroke-width="3.3" fill="none"/>
<path d="M1008.36 490.71L1006.72 505.01" stroke="#2f2e2b" stroke-width="1.2" fill="none"/>
<path d="M1007.99 490.66L1006.36 504.97" stroke="#121211" stroke-width="3.3" fill="none"/>
<path d="M1061.43 502.93L1056.66 516.52M1079.9 510.28L1074.04 523.43M1023.39 492.91L1020.85 507.09M1067.5 505.15L1062.37 518.61" stroke="#c7c3b9" stroke-width="1.2" fill="none"/>
<path d="M1067.41 505.12L1062.28 518.58" stroke="#2f2e2b" stroke-width="1.7" fill="none"/>
<path d="M1064.27 503.95L1059.33 517.47" stroke="#c7c3b9" stroke-width="3.3" fill="none"/>
<path d="M1005.01 490.34L1003.56 504.67" stroke="#696762" stroke-width="0.8" fill="none"/>
<path d="M1089.88 515.01L1083.43 527.88M1218.91 680.55L1204.86 683.66" stroke="#121211" stroke-width="1.7" fill="none"/>
<path d="M1060.97 502.77L1056.22 516.36" stroke="#c7c3b9" stroke-width="1.0" fill="none"/>
<path d="M998.66 489.78L997.59 504.14M1021.23 492.54L1018.82 506.73" stroke="#c7c3b9" stroke-width="0.8" fill="none"/>
<path d="M1101.03 520.96L1093.92 533.48M1098.03 519.28L1091.09 531.9" stroke="#1c1b1a" stroke-width="3.3" fill="none"/>
<path d="M1072.87 507.27L1067.42 520.6" stroke="#696762" stroke-width="1.2" fill="none"/>
<path d="M1052.9 500.11L1048.63 513.86" stroke="#1c1b1a" stroke-width="0.8" fill="none"/>
<path d="M1058.11 501.79L1053.53 515.44" stroke="#b0aca3" stroke-width="0.8" fill="none"/>
<path d="M1009.84 490.88L1008.11 505.18M1079.94 510.3L1074.08 523.45" stroke="#b0aca3" stroke-width="1.2" fill="none"/>
<path d="M1005.41 490.38L1003.94 504.71M1166.57 575.21L1155.6 584.54M1215.31 666.31L1201.46 670.26" stroke="#121211" stroke-width="0.8" fill="none"/>
<path d="M1038.49 496.11L1035.07 510.09" stroke="#b0aca3" stroke-width="2.3" fill="none"/>
<path d="M1043.17 497.3L1039.47 511.22" stroke="#696762" stroke-width="1.7" fill="none"/>
<path d="M1007.61 490.62L1006.01 504.93M1159.21 566.94L1148.67 576.75M1208.18 645.08L1194.75 650.28M1219.06 681.22L1204.99 684.3" stroke="#121211" stroke-width="1.2" fill="none"/>
<path d="M1033.57 494.96L1030.44 509.01M1140.99 549.3L1131.52 560.15M1206.64 641.22L1193.31 646.65M1224.7 732.18L1210.3 732.25M1205.07 829.35L1191.82 823.7M1164.79 893.66L1153.92 884.21M1093.49 949.95L1086.83 937.18M1017.52 974.86L1015.33 960.63M950.16 975.82L951.95 961.53M884.54 958.11L890.19 944.86M833.99 928.97L842.62 917.44M778.56 871.03L790.46 862.92M749.38 812.86L763 808.18M738.04 764.12L752.32 762.31M737.74 705.1L752.05 706.77M746.81 661.87L760.58 666.09M766.34 615.67L778.95 622.61M794.49 574.9L805.45 584.25M821.16 548.13L830.55 559.05M845.93 529.44L853.85 541.46M874.25 513.37L880.51 526.34M902.35 501.9L906.95 515.55M956.84 490.24L958.23 504.57" stroke="#dc6a62" stroke-width="1.4" fill="none"/>
<path d="M1148.78 556.4L1138.86 566.83" stroke="#2d2d2a" stroke-width="1.2" fill="none"/>
<path d="M1164.83 573.19L1153.96 582.63M1160.56 568.4L1149.94 578.13M1167.84 576.72L1156.79 585.95" stroke="#c0c0b5" stroke-width="1.0" fill="none"/>
<path d="M1152.16 559.67L1142.03 569.91" stroke="#2d2d2a" stroke-width="2.3" fill="none"/>
<path d="M1145.2 553.06L1135.49 563.69M1174.84 585.49L1163.38 594.21" stroke="#1b1b19" stroke-width="1.2" fill="none"/>
<path d="M1143.27 551.31L1133.67 562.04M1219.92 685.31L1205.8 688.15M1212.2 656.25L1198.53 660.79" stroke="#121211" stroke-width="1.0" fill="none"/>
<path d="M1133.05 542.67L1124.06 553.91" stroke="#888880" stroke-width="3.3" fill="none"/>
<path d="M1185.16 600.16L1173.1 608.01" stroke="#666660" stroke-width="0.8" fill="none"/>
<path d="M1126.06 537.28L1117.48 548.84" stroke="#1b1b19" stroke-width="3.3" fill="none"/>
<path d="M1113.3 528.41L1105.47 540.5M1116.18 530.31L1108.17 542.28" stroke="#666660" stroke-width="1.0" fill="none"/>
<path d="M1146.96 554.68L1137.14 565.21" stroke="#aaaaa0" stroke-width="0.8" fill="none"/>
<path d="M1110.9 526.88L1103.21 539.05" stroke="#aaaaa0" stroke-width="1.2" fill="none"/>
<path d="M1174.97 585.67L1163.5 594.38M1183.08 597.01L1171.14 605.05" stroke="#aaaaa0" stroke-width="1.0" fill="none"/>
<path d="M1125.68 536.99L1117.11 548.57" stroke="#888880" stroke-width="1.0" fill="none"/>
<path d="M1179.79 592.23L1168.03 600.56" stroke="#666660" stroke-width="3.3" fill="none"/>
<path d="M1126.86 537.87L1118.23 549.39M1120.78 533.46L1112.5 545.24" stroke="#c0c0b5" stroke-width="1.2" fill="none"/>
<path d="M1118.8 532.08L1110.64 543.95" stroke="#c0c0b5" stroke-width="0.8" fill="none"/>
<path d="M1131.98 541.81L1123.05 553.1" stroke="#c0c0b5" stroke-width="3.3" fill="none"/>
<path d="M1135.02 544.26L1125.91 555.41" stroke="#1b1b19" stroke-width="1.0" fill="none"/>
<path d="M1162.81 570.89L1152.06 580.47" stroke="#1b1b19" stroke-width="1.7" fill="none"/>
<path d="M1193.38 613.72L1180.82 620.77" stroke="#c6c7ba" stroke-width="1.2" fill="none"/>
<path d="M1200.87 628.15L1187.87 634.35" stroke="#2e2f2b" stroke-width="0.8" fill="none"/>
<path d="M1202.13 630.84L1189.06 636.89" stroke="#2e2f2b" stroke-width="1.7" fill="none"/>
<path d="M1194.39 615.54L1181.77 622.48" stroke="#c6c7ba" stroke-width="1.0" fill="none"/>
<path d="M1220.98 690.92L1206.8 693.42M1206 639.65L1192.7 645.18" stroke="#c6c7ba" stroke-width="2.3" fill="none"/>
<path d="M1220.03 685.87L1205.91 688.67M1193.29 613.57L1180.74 620.63M1217.46 674.37L1203.49 677.85M1213.33 659.73L1199.6 664.07M1221.18 692.06L1206.99 694.5" stroke="#aeb0a4" stroke-width="1.2" fill="none"/>
<path d="M1212.59 657.44L1198.91 661.92" stroke="#c6c7ba" stroke-width="0.8" fill="none"/>
<path d="M1196.3 619.07L1183.57 625.81" stroke="#1b1c1a" stroke-width="0.8" fill="none"/>
<path d="M1219.61 683.79L1205.51 686.72" stroke="#2e2f2b" stroke-width="2.3" fill="none"/>
<path d="M1194.07 614.96L1181.48 621.94" stroke="#1b1c1a" stroke-width="1.2" fill="none"/>
<path d="M1212.15 656.1L1198.49 660.65" stroke="#1b1c1a" stroke-width="1.7" fill="none"/>
<path d="M1193.86 614.59L1181.28 621.59" stroke="#1b1c1a" stroke-width="2.3" fill="none"/>
<path d="M1221.73 771.4L1207.5 769.16" stroke="#ccb7b7" stroke-width="0.8" fill="none"/>
<path d="M1222.76 764.14L1208.47 762.33" stroke="#908181" stroke-width="0.8" fill="none"/>
<path d="M1224 751.82L1209.65 750.74" stroke="#131111" stroke-width="1.2" fill="none"/>
<path d="M1224.38 720.99L1210 721.73" stroke="#1c1919" stroke-width="2.3" fill="none"/>
<path d="M1224.5 743.19L1210.12 742.61M1224.7 733.65L1210.3 733.64" stroke="#ccb7b7" stroke-width="1.7" fill="none"/>
<path d="M1224.48 723.12L1210.1 723.73" stroke="#b4a2a2" stroke-width="0.8" fill="none"/>
<path d="M1224.61 726.88L1210.22 727.26" stroke="#6c6161" stroke-width="2.3" fill="none"/>
<path d="M1224.43 744.95L1210.04 744.26M1220.49 778.56L1206.34 775.89" stroke="#b4a2a2" stroke-width="3.3" fill="none"/>
<path d="M1223.59 756.69L1209.25 755.31" stroke="#ccb7b7" stroke-width="1.2" fill="none"/>
<path d="M1221 775.77L1206.82 773.28M1223.86 713.19L1209.51 714.38" stroke="#b4a2a2" stroke-width="1.2" fill="none"/>
<path d="M1223.54 757.18L1209.21 755.77" stroke="#b4a2a2" stroke-width="1.0" fill="none"/>
<path d="M1222.16 768.55L1207.91 766.48" stroke="#6c6161" stroke-width="3.3" fill="none"/>
<path d="M1221.16 774.84L1206.97 772.39M1224.11 750.32L1209.75 749.32" stroke="#6c6161" stroke-width="1.2" fill="none"/>
<path d="M1221.74 771.29L1207.52 769.06M1224.65 728.48L1210.25 728.77" stroke="#131111" stroke-width="3.3" fill="none"/>
<path d="M1223.14 760.92L1208.84 759.3" stroke="#302b2b" stroke-width="1.2" fill="none"/>
<path d="M1223.69 711.26L1209.35 712.56" stroke="#908181" stroke-width="1.2" fill="none"/>
<path d="M1223.49 757.69L1209.16 756.26" stroke="#ccb7b7" stroke-width="2.3" fill="none"/>
<path d="M1200.94 838.49L1187.94 832.3" stroke="#937c7c" stroke-width="2.3" fill="none"/>
<path d="M1202.17 835.87L1189.1 829.83" stroke="#131010" stroke-width="1.2" fill="none"/>
<path d="M1199.8 840.85L1186.87 834.52M1194.15 851.69L1181.55 844.72" stroke="#d0afaf" stroke-width="1.2" fill="none"/>
<path d="M1213.01 808.06L1199.3 803.66" stroke="#937c7c" stroke-width="3.3" fill="none"/>
<path d="M1211.85 811.6L1198.2 806.99" stroke="#131010" stroke-width="1.0" fill="none"/>
<path d="M1186.66 864.32L1174.5 856.61M1213.28 807.22L1199.55 802.87" stroke="#d0afaf" stroke-width="0.8" fill="none"/>
<path d="M1214.87 801.99L1201.05 797.95" stroke="#b79b9b" stroke-width="1.7" fill="none"/>
<path d="M1187.72 862.63L1175.5 855.01" stroke="#6e5d5d" stroke-width="2.3" fill="none"/>
<path d="M1212.79 808.76L1199.09 804.32" stroke="#937c7c" stroke-width="1.2" fill="none"/>
<path d="M1203.33 833.32L1190.19 827.43" stroke="#312929" stroke-width="0.8" fill="none"/>
<path d="M1212.12 810.78L1198.46 806.22" stroke="#b79b9b" stroke-width="3.3" fill="none"/>
<path d="M1203.18 833.66L1190.05 827.75" stroke="#d0afaf" stroke-width="1.7" fill="none"/>
<path d="M1200.71 838.98L1187.72 832.76" stroke="#312929" stroke-width="3.3" fill="none"/>
<path d="M1207.64 823.1L1194.24 817.81" stroke="#6e5d5d" stroke-width="3.3" fill="none"/>
<path d="M1215.35 800.35L1201.5 796.4" stroke="#b79b9b" stroke-width="2.3" fill="none"/>
<path d="M1214.41 803.56L1200.61 799.43" stroke="#6e5d5d" stroke-width="1.2" fill="none"/>
<path d="M1200.33 839.77L1187.37 833.5" stroke="#b79b9b" stroke-width="0.8" fill="none"/>
<path d="M1202.84 834.4L1189.73 828.45" stroke="#d0afaf" stroke-width="2.3" fill="none"/>
<path d="M1209.52 818.18L1196.01 813.19" stroke="#1d1818" stroke-width="1.0" fill="none"/>
<path d="M1139.43 918.85L1130.06 907.92" stroke="#1d181d" stroke-width="2.3" fill="none"/>
<path d="M1171.12 886.06L1159.88 877.07M1132.01 924.96L1123.08 913.67" stroke="#1d181d" stroke-width="1.2" fill="none"/>
<path d="M1130.14 926.43L1121.31 915.05M1159.93 899.09L1149.35 889.32" stroke="#b696b7" stroke-width="1.7" fill="none"/>
<path d="M1168.81 888.91L1157.71 879.74" stroke="#131013" stroke-width="2.3" fill="none"/>
<path d="M1164.58 893.9L1153.73 884.44" stroke="#131013" stroke-width="0.8" fill="none"/>
<path d="M1142.29 916.36L1132.74 905.58" stroke="#131013" stroke-width="1.2" fill="none"/>
<path d="M1170.89 886.36L1159.66 877.34" stroke="#1d181d" stroke-width="3.3" fill="none"/>
<path d="M1160.54 898.42L1149.92 888.69" stroke="#302831" stroke-width="0.8" fill="none"/>
<path d="M1155.14 904.13L1144.84 894.07" stroke="#302831" stroke-width="2.3" fill="none"/>
<path d="M1158.4 900.72L1147.91 890.86M1149.47 909.75L1139.5 899.35M1155.6 903.65L1145.28 893.62" stroke="#ceaad0" stroke-width="1.7" fill="none"/>
<path d="M1138.19 919.91L1128.89 908.91" stroke="#ceaad0" stroke-width="2.3" fill="none"/>
<path d="M1142.87 915.84L1133.3 905.09" stroke="#ceaad0" stroke-width="1.2" fill="none"/>
<path d="M1153.78 905.51L1143.56 895.37" stroke="#ceaad0" stroke-width="3.3" fill="none"/>
<path d="M1137.98 920.08L1128.69 909.08" stroke="#917893" stroke-width="1.7" fill="none"/>
<path d="M1166.4 891.79L1155.43 882.45" stroke="#6d5a6e" stroke-width="1.2" fill="none"/>
<path d="M1166.75 891.37L1155.77 882.06" stroke="#ceaad0" stroke-width="1.0" fill="none"/>
<path d="M1088.45 952.51L1082.08 939.59" stroke="#121112" stroke-width="1.7" fill="none"/>
<path d="M1084 954.64L1077.9 941.6" stroke="#c5bdc0" stroke-width="0.8" fill="none"/>
<path d="M1059.98 964.37L1055.29 950.76" stroke="#aea7aa" stroke-width="1.7" fill="none"/>
<path d="M1087.94 952.76L1081.6 939.83" stroke="#1b1a1b" stroke-width="1.7" fill="none"/>
<path d="M1091.31 951.07L1084.77 938.24" stroke="#2e2c2d" stroke-width="2.3" fill="none"/>
<path d="M1117.36 935.7L1109.29 923.77" stroke="#c5bdc0" stroke-width="1.7" fill="none"/>
<path d="M1096.18 948.52L1089.36 935.84" stroke="#aea7aa" stroke-width="3.3" fill="none"/>
<path d="M1105.14 943.45L1097.79 931.07M1113.74 938.1L1105.88 926.04" stroke="#c5bdc0" stroke-width="1.2" fill="none"/>
<path d="M1089.15 952.16L1082.74 939.27" stroke="#686466" stroke-width="0.8" fill="none"/>
<path d="M1095.82 948.72L1089.02 936.02" stroke="#8b8588" stroke-width="0.8" fill="none"/>
<path d="M1113.59 938.2L1105.74 926.13" stroke="#121112" stroke-width="3.3" fill="none"/>
<path d="M1119.14 934.48L1110.96 922.63" stroke="#686466" stroke-width="1.0" fill="none"/>
<path d="M1120.53 933.51L1112.27 921.72" stroke="#aea7aa" stroke-width="1.2" fill="none"/>
<path d="M1076.31 958.09L1070.66 944.84" stroke="#c5bdc0" stroke-width="1.0" fill="none"/>
<path d="M1115.05 937.24L1107.12 925.22" stroke="#1b1a1b" stroke-width="2.3" fill="none"/>
<path d="M1067.84 961.51L1062.69 948.07" stroke="#8b8588" stroke-width="1.7" fill="none"/>
<path d="M1076.7 957.92L1071.02 944.69" stroke="#c5bdc0" stroke-width="2.3" fill="none"/>
<path d="M1066.06 962.19L1061.01 948.71" stroke="#aea7aa" stroke-width="0.8" fill="none"/>
<path d="M996.76 977.15L995.8 962.78M995.08 977.26L994.22 962.88" stroke="#2f2c29" stroke-width="1.7" fill="none"/>
<path d="M1015.13 975.22L1013.08 960.96" stroke="#c8bdaf" stroke-width="3.3" fill="none"/>
<path d="M1008.73 976.05L1007.06 961.75" stroke="#6a645d" stroke-width="1.7" fill="none"/>
<path d="M1034.47 971.64L1031.28 957.6M1004.49 976.51L1003.07 962.18" stroke="#b1a79b" stroke-width="2.3" fill="none"/>
<path d="M991.78 977.43L991.11 963.05M1003.09 976.64L1001.75 962.31" stroke="#b1a79b" stroke-width="1.2" fill="none"/>
<path d="M992.55 977.4L991.84 963.02" stroke="#6a645d" stroke-width="1.0" fill="none"/>
<path d="M999.77 976.93L998.63 962.58" stroke="#1c1a18" stroke-width="1.0" fill="none"/>
<path d="M1040.65 970.15L1037.1 956.2" stroke="#2f2c29" stroke-width="1.0" fill="none"/>
<path d="M1042.95 969.56L1039.26 955.64" stroke="#b1a79b" stroke-width="3.3" fill="none"/>
<path d="M1014.81 975.26L1012.78 961.01" stroke="#2f2c29" stroke-width="2.3" fill="none"/>
<path d="M1036.48 971.18L1033.17 957.16" stroke="#121110" stroke-width="2.3" fill="none"/>
<path d="M1043.01 969.54L1039.32 955.62" stroke="#b1a79b" stroke-width="1.7" fill="none"/>
<path d="M991.22 977.46L990.58 963.07" stroke="#1c1a18" stroke-width="1.2" fill="none"/>
<path d="M1017.39 974.88L1015.21 960.65" stroke="#6a645d" stroke-width="2.3" fill="none"/>
<path d="M947.66 975.5L949.59 961.23M921.78 970.56L925.23 956.58" stroke="#131210" stroke-width="0.8" fill="none"/>
<path d="M931.31 972.72L934.2 958.61" stroke="#ccc8b4" stroke-width="1.7" fill="none"/>
<path d="M923.03 970.87L926.42 956.87" stroke="#302f2a" stroke-width="1.2" fill="none"/>
<path d="M964.91 977.21L965.82 962.84" stroke="#6c6a5f" stroke-width="0.8" fill="none"/>
<path d="M965.92 977.27L966.77 962.9" stroke="#908d7f" stroke-width="1.0" fill="none"/>
<path d="M968.17 977.39L968.89 963.01" stroke="#ccc8b4" stroke-width="2.3" fill="none"/>
<path d="M971.54 977.54L972.06 963.15M956.99 976.58L958.37 962.24" stroke="#b4b19f" stroke-width="0.8" fill="none"/>
<path d="M953.03 976.16L954.64 961.85" stroke="#ccc8b4" stroke-width="1.2" fill="none"/>
<path d="M955.17 976.39L956.65 962.07M926.54 971.69L929.72 957.64" stroke="#b4b19f" stroke-width="1.0" fill="none"/>
<path d="M975.35 977.65L975.65 963.25" stroke="#131210" stroke-width="2.3" fill="none"/>
<path d="M949.32 975.71L951.15 961.43" stroke="#b4b19f" stroke-width="2.3" fill="none"/>
<path d="M952.18 976.06L953.84 961.76" stroke="#302f2a" stroke-width="1.0" fill="none"/>
<path d="M970.52 977.5L971.1 963.11" stroke="#131210" stroke-width="3.3" fill="none"/>
<path d="M898.29 963.49L903.13 949.93M861.87 947.02L868.86 934.43" stroke="#b5b59c" stroke-width="1.7" fill="none"/>
<path d="M866.45 949.49L873.16 936.76M904.75 965.69L909.21 952" stroke="#91917c" stroke-width="1.2" fill="none"/>
<path d="M861.14 946.61L868.17 934.05M886.92 959.11L892.43 945.81" stroke="#303029" stroke-width="2.3" fill="none"/>
<path d="M865.95 949.23L872.7 936.51" stroke="#303029" stroke-width="1.2" fill="none"/>
<path d="M868.33 950.48L874.94 937.68" stroke="#303029" stroke-width="3.3" fill="none"/>
<path d="M883.63 957.72L889.33 944.49" stroke="#b5b59c" stroke-width="0.8" fill="none"/>
<path d="M857.24 944.38L864.5 931.95" stroke="#131310" stroke-width="1.7" fill="none"/>
<path d="M896.1 962.69L901.06 949.18" stroke="#91917c" stroke-width="2.3" fill="none"/>
<path d="M890.5 960.56L895.79 947.17" stroke="#b5b59c" stroke-width="2.3" fill="none"/>
<path d="M878.41 955.39L884.42 942.31" stroke="#1d1d18" stroke-width="1.7" fill="none"/>
<path d="M887.77 959.46L893.23 946.13" stroke="#6c6c5d" stroke-width="1.2" fill="none"/>
<path d="M871.67 952.17L878.08 939.28" stroke="#b5b59c" stroke-width="3.3" fill="none"/>
<path d="M857.75 944.68L864.98 932.23" stroke="#1d1d18" stroke-width="0.8" fill="none"/>
<path d="M813.5 911.81L823.34 901.29M830.7 926.46L839.52 915.08" stroke="#c7cdaa" stroke-width="1.2" fill="none"/>
<path d="M828.98 925.12L837.91 913.81" stroke="#696c5a" stroke-width="0.8" fill="none"/>
<path d="M817.56 915.51L827.16 904.78" stroke="#1c1d18" stroke-width="0.8" fill="none"/>
<path d="M835.87 930.36L844.39 918.75M827.65 924.06L836.66 912.82" stroke="#b0b596" stroke-width="1.2" fill="none"/>
<path d="M822.03 919.41L831.36 908.45" stroke="#b0b596" stroke-width="1.7" fill="none"/>
<path d="M803.68 902.08L814.1 892.14" stroke="#1c1d18" stroke-width="1.7" fill="none"/>
<path d="M818.01 915.92L827.58 905.16" stroke="#1c1d18" stroke-width="3.3" fill="none"/>
<path d="M822.06 919.44L831.39 908.47" stroke="#121310" stroke-width="2.3" fill="none"/>
<path d="M829.7 925.68L838.58 914.35" stroke="#b0b596" stroke-width="1.0" fill="none"/>
<path d="M825.67 922.45L834.79 911.31" stroke="#c7cdaa" stroke-width="1.0" fill="none"/>
<path d="M822.4 919.73L831.72 908.75" stroke="#121310" stroke-width="1.7" fill="none"/>
<path d="M834.61 929.43L843.2 917.87" stroke="#8d9178" stroke-width="1.2" fill="none"/>
<path d="M817.24 915.23L826.86 904.51" stroke="#8d9178" stroke-width="1.7" fill="none"/>
<path d="M816.86 914.88L826.5 904.19" stroke="#8d9178" stroke-width="2.3" fill="none"/>
<path d="M769.39 856.52L781.83 849.26" stroke="#101310" stroke-width="1.7" fill="none"/>
<path d="M773.68 863.59L785.86 855.91M793.99 891.3L804.97 881.99M779.47 872.36L791.32 864.17" stroke="#9cb69c" stroke-width="1.2" fill="none"/>
<path d="M794.09 891.42L805.07 882.11M779.9 872.98L791.72 864.75" stroke="#9cb69c" stroke-width="2.3" fill="none"/>
<path d="M793.2 890.36L804.23 881.11" stroke="#9cb69c" stroke-width="1.0" fill="none"/>
<path d="M771 859.24L783.35 851.82" stroke="#5d6d5d" stroke-width="1.2" fill="none"/>
<path d="M794.27 891.63L805.24 882.31" stroke="#b0ceb0" stroke-width="0.8" fill="none"/>
<path d="M790.53 887.12L801.72 878.06" stroke="#5d6d5d" stroke-width="3.3" fill="none"/>
<path d="M774.61 865.06L786.74 857.3" stroke="#101310" stroke-width="0.8" fill="none"/>
<path d="M773.95 864.02L786.12 856.33" stroke="#181d18" stroke-width="1.2" fill="none"/>
<path d="M788.33 884.37L799.66 875.47M777.06 868.8L789.04 860.82" stroke="#9cb69c" stroke-width="0.8" fill="none"/>
<path d="M782.61 876.79L794.27 868.34" stroke="#b0ceb0" stroke-width="2.3" fill="none"/>
<path d="M768.13 854.33L780.64 847.2" stroke="#7c917c" stroke-width="1.0" fill="none"/>
<path d="M754.1 825.45L767.44 820.02" stroke="#b7c0b0" stroke-width="0.8" fill="none"/>
<path d="M743.93 794.75L757.87 791.14" stroke="#b7c0b0" stroke-width="3.3" fill="none"/>
<path d="M747.6 807.47L761.32 803.11" stroke="#81887c" stroke-width="1.2" fill="none"/>
<path d="M753.49 823.93L766.87 818.59" stroke="#61665d" stroke-width="2.3" fill="none"/>
<path d="M747.48 807.09L761.21 802.75" stroke="#61665d" stroke-width="3.3" fill="none"/>
<path d="M755.02 827.67L768.31 822.11" stroke="#b7c0b0" stroke-width="1.0" fill="none"/>
<path d="M742.89 790.58L756.89 787.21" stroke="#111210" stroke-width="1.0" fill="none"/>
<path d="M747.55 807.31L761.27 802.95" stroke="#81887c" stroke-width="0.8" fill="none"/>
<path d="M753.71 824.48L767.07 819.11" stroke="#111210" stroke-width="0.8" fill="none"/>
<path d="M756.72 831.64L769.91 825.85" stroke="#81887c" stroke-width="1.7" fill="none"/>
<path d="M757.32 833L770.47 827.13" stroke="#2b2d29" stroke-width="0.8" fill="none"/>
<path d="M748.74 810.97L762.4 806.4" stroke="#a2aa9c" stroke-width="2.3" fill="none"/>
<path d="M749.81 814.09L763.4 809.33" stroke="#61665d" stroke-width="1.2" fill="none"/>
<path d="M752.29 820.85L765.74 815.7" stroke="#2b2d29" stroke-width="1.2" fill="none"/>
<path d="M740.04 777.1L754.21 774.52" stroke="#b0b0ca" stroke-width="0.8" fill="none"/>
<path d="M736.32 743.81L750.71 743.19" stroke="#5d5d6b" stroke-width="1.7" fill="none"/>
<path d="M737.6 760.4L751.91 758.81" stroke="#7c7c8e" stroke-width="2.3" fill="none"/>
<path d="M737.88 762.86L752.18 761.12" stroke="#9c9cb2" stroke-width="1.0" fill="none"/>
<path d="M739.42 773.54L753.63 771.18" stroke="#9c9cb2" stroke-width="3.3" fill="none"/>
<path d="M738.47 767.35L752.73 765.35" stroke="#29292f" stroke-width="3.3" fill="none"/>
<path d="M737.68 761.16L751.99 759.52M737.51 759.6L751.83 758.06" stroke="#18181c" stroke-width="1.2" fill="none"/>
<path d="M737.14 755.89L751.48 754.57" stroke="#b0b0ca" stroke-width="1.2" fill="none"/>
<path d="M736.31 743.53L750.7 742.93" stroke="#7c7c8e" stroke-width="1.2" fill="none"/>
<path d="M736.29 743.16L750.68 742.58" stroke="#18181c" stroke-width="0.8" fill="none"/>
<path d="M738.35 766.48L752.62 764.53" stroke="#18181c" stroke-width="2.3" fill="none"/>
<path d="M736.6 749.01L750.97 748.09" stroke="#9c9cb2" stroke-width="1.2" fill="none"/>
<path d="M736.46 720.06L750.84 720.85M736.73 715.89L751.09 716.93M738.89 696.57L753.13 698.74" stroke="#a6abb6" stroke-width="1.2" fill="none"/>
<path d="M737.11 711.23L751.45 712.53" stroke="#a6abb6" stroke-width="0.8" fill="none"/>
<path d="M738.72 697.73L752.96 699.83" stroke="#858891" stroke-width="1.7" fill="none"/>
<path d="M737.38 708.4L751.71 709.87" stroke="#858891" stroke-width="3.3" fill="none"/>
<path d="M737.47 707.6L751.79 709.12" stroke="#a6abb6" stroke-width="1.0" fill="none"/>
<path d="M740.43 687.62L754.57 690.32" stroke="#bcc1ce" stroke-width="2.3" fill="none"/>
<path d="M736.25 724.77L750.64 725.28" stroke="#a6abb6" stroke-width="2.3" fill="none"/>
<path d="M738.05 702.62L752.33 704.43" stroke="#63666d" stroke-width="3.3" fill="none"/>
<path d="M737.83 704.36L752.13 706.07" stroke="#2c2d30" stroke-width="3.3" fill="none"/>
<path d="M736.54 718.73L750.91 719.6" stroke="#bcc1ce" stroke-width="3.3" fill="none"/>
<path d="M745.67 665.71L759.5 669.7" stroke="#66696d" stroke-width="0.8" fill="none"/>
<path d="M748.6 656.27L762.26 660.81" stroke="#2d2f30" stroke-width="1.7" fill="none"/>
<path d="M749.3 654.19L762.92 658.86M752.48 645.45L765.92 650.63" stroke="#abb0b7" stroke-width="0.8" fill="none"/>
<path d="M743.29 674.57L757.27 678.04" stroke="#888d92" stroke-width="1.7" fill="none"/>
<path d="M743.47 673.85L757.43 677.36" stroke="#1b1c1d" stroke-width="2.3" fill="none"/>
<path d="M754.21 641.09L767.54 646.53" stroke="#121213" stroke-width="0.8" fill="none"/>
<path d="M750.22 651.54L763.79 656.36" stroke="#1b1c1d" stroke-width="1.0" fill="none"/>
<path d="M751.85 647.11L765.32 652.2" stroke="#abb0b7" stroke-width="2.3" fill="none"/>
<path d="M745.25 667.17L759.11 671.07" stroke="#c1c7cf" stroke-width="1.0" fill="none"/>
<path d="M752.14 646.34L765.59 651.47" stroke="#abb0b7" stroke-width="1.7" fill="none"/>
<path d="M752.13 646.37L765.58 651.5" stroke="#abb0b7" stroke-width="1.2" fill="none"/>
<path d="M779.3 594.68L791.16 602.86" stroke="#293030" stroke-width="2.3" fill="none"/>
<path d="M769.02 610.92L781.48 618.14" stroke="#181d1d" stroke-width="1.7" fill="none"/>
<path d="M773.51 603.48L785.7 611.14" stroke="#9cb7b7" stroke-width="0.8" fill="none"/>
<path d="M774.57 601.81L786.7 609.56" stroke="#9cb7b7" stroke-width="2.3" fill="none"/>
<path d="M776.7 598.53L788.71 606.48" stroke="#9cb7b7" stroke-width="3.3" fill="none"/>
<path d="M776.26 599.2L788.29 607.11" stroke="#b0cfcf" stroke-width="1.2" fill="none"/>
<path d="M772.06 605.82L784.34 613.34" stroke="#9cb7b7" stroke-width="1.7" fill="none"/>
<path d="M773.55 603.41L785.74 611.08" stroke="#181d1d" stroke-width="3.3" fill="none"/>
<path d="M767.57 613.45L780.12 620.52" stroke="#293030" stroke-width="1.2" fill="none"/>
<path d="M764.17 619.71L776.91 626.41" stroke="#9cb7b7" stroke-width="1.0" fill="none"/>
<path d="M772.99 604.31L785.22 611.92" stroke="#5d6d6d" stroke-width="1.2" fill="none"/>
<path d="M766.93 614.59L779.52 621.6" stroke="#7c9292" stroke-width="1.7" fill="none"/>
<path d="M803.65 564.75L814.07 574.69" stroke="#8a8d8d" stroke-width="1.2" fill="none"/>
<path d="M800.31 568.33L810.92 578.06" stroke="#2e2f2f" stroke-width="1.2" fill="none"/>
<path d="M801.27 567.28L811.83 577.07" stroke="#121212" stroke-width="1.0" fill="none"/>
<path d="M800.78 567.81L811.37 577.57" stroke="#c3c7c7" stroke-width="0.8" fill="none"/>
<path d="M804.16 564.22L814.55 574.19" stroke="#acb0b0" stroke-width="0.8" fill="none"/>
<path d="M787.64 583.32L799 592.16" stroke="#acb0b0" stroke-width="1.0" fill="none"/>
<path d="M789.76 580.62L801 589.63M797.43 571.52L808.22 581.06" stroke="#c3c7c7" stroke-width="1.0" fill="none"/>
<path d="M789.13 581.42L800.4 590.38" stroke="#acb0b0" stroke-width="1.2" fill="none"/>
<path d="M788.88 581.73L800.17 590.67" stroke="#8a8d8d" stroke-width="3.3" fill="none"/>
<path d="M830.23 540.71L839.08 552.07" stroke="#c4adce" stroke-width="1.7" fill="none"/>
<path d="M828.53 542.04L837.49 553.32" stroke="#ad99b6" stroke-width="1.2" fill="none"/>
<path d="M829.7 541.12L838.58 552.46" stroke="#c4adce" stroke-width="1.2" fill="none"/>
<path d="M826.98 543.28L836.03 554.49" stroke="#c4adce" stroke-width="0.8" fill="none"/>
<path d="M828.71 541.9L837.65 553.19" stroke="#121013" stroke-width="1.2" fill="none"/>
<path d="M816.74 552.02L826.39 562.71" stroke="#ad99b6" stroke-width="1.0" fill="none"/>
<path d="M830.88 540.2L839.69 551.59" stroke="#c4adce" stroke-width="3.3" fill="none"/>
<path d="M827.03 543.24L836.07 554.45" stroke="#121013" stroke-width="3.3" fill="none"/>
<path d="M843.88 530.8L851.93 542.75" stroke="#c4b2cf" stroke-width="0.8" fill="none"/>
<path d="M858.37 521.76L865.56 534.24" stroke="#675e6d" stroke-width="1.2" fill="none"/>
<path d="M854.14 524.26L861.58 536.59" stroke="#2e2a30" stroke-width="1.7" fill="none"/>
<path d="M847.68 528.29L855.51 540.38" stroke="#ad9db7" stroke-width="3.3" fill="none"/>
<path d="M841.92 532.14L850.08 544.01" stroke="#c4b2cf" stroke-width="3.3" fill="none"/>
<path d="M841.63 532.34L849.81 544.19" stroke="#8a7e92" stroke-width="2.3" fill="none"/>
<path d="M849.84 526.91L857.54 539.08" stroke="#2e2a30" stroke-width="0.8" fill="none"/>
<path d="M851.05 526.15L858.68 538.37" stroke="#121013" stroke-width="1.0" fill="none"/>
<path d="M884.28 508.8L889.95 522.04" stroke="#2f2d32" stroke-width="1.0" fill="none"/>
<path d="M870.11 515.41L876.61 528.26M870.36 515.29L876.84 528.14" stroke="#cac1d5" stroke-width="1.2" fill="none"/>
<path d="M870.12 515.41L876.62 528.26" stroke="#cac1d5" stroke-width="2.3" fill="none"/>
<path d="M883.27 509.24L888.99 522.45" stroke="#131214" stroke-width="1.2" fill="none"/>
<path d="M882.1 509.75L887.89 522.93" stroke="#6b6670" stroke-width="1.2" fill="none"/>
<path d="M884.29 508.8L889.96 522.04" stroke="#cac1d5" stroke-width="0.8" fill="none"/>
<path d="M903.84 501.41L908.35 515.08" stroke="#c0c0c5" stroke-width="1.7" fill="none"/>
<path d="M897.15 503.72L902.06 517.26" stroke="#87888b" stroke-width="3.3" fill="none"/>
<path d="M899.89 502.75L904.64 516.34M904.07 501.33L908.57 515.01M933.5 493.64L936.26 507.78" stroke="#1b1b1b" stroke-width="1.2" fill="none"/>
<path d="M900.65 502.48L905.35 516.09" stroke="#2d2d2e" stroke-width="2.3" fill="none"/>
<path d="M896.26 504.05L901.22 517.56" stroke="#c0c0c5" stroke-width="1.2" fill="none"/>
<path d="M907.39 500.27L911.69 514.01" stroke="#1b1b1b" stroke-width="3.3" fill="none"/>
<path d="M921.71 496.26L925.17 510.23M943 491.98L945.2 506.21M969.88 489.33L970.5 503.71" stroke="#c5c5c5" stroke-width="1.2" fill="none"/>
<path d="M936.79 493.02L939.36 507.19M977.63 489.12L977.79 503.51" stroke="#1b1b1b" stroke-width="1.7" fill="none"/>
<path d="M951.73 490.79L953.42 505.09" stroke="#686868" stroke-width="0.8" fill="none"/>
<path d="M982.05 489.11L981.96 503.51" stroke="#8b8b8b" stroke-width="1.0" fill="none"/>
<path d="M963.31 489.7L964.32 504.06" stroke="#8b8b8b" stroke-width="1.7" fill="none"/>
<path d="M985.65 489.16L985.34 503.55" stroke="#aeaeae" stroke-width="3.3" fill="none"/>
<path d="M958.38 490.09L959.68 504.44" stroke="#8b8b8b" stroke-width="0.8" fill="none"/>
<path d="M976.94 489.12L977.14 503.52" stroke="#1b1b1b" stroke-width="0.8" fill="none"/>
<path d="M930.29 494.29L933.24 508.39M927.58 494.88L930.7 508.94" stroke="#2e2e2e" stroke-width="0.8" fill="none"/>
<path d="M966.72 489.48L967.53 503.86" stroke="#2e2e2e" stroke-width="2.3" fill="none"/>
<path d="M932.91 493.76L935.71 507.89" stroke="#121212" stroke-width="1.2" fill="none"/>
<path d="M987.94 489.22L987.49 503.61M973.12 489.21L973.55 503.6" stroke="#aeaeae" stroke-width="1.2" fill="none"/>
</g>
<path d="M760 768.5C850.36 754.11 985.89 601.95 989.7 510.6" fill="none" stroke="#f7923a" stroke-width="2"/>
<path d="M937.06 631.49L934.78 650.15M937.06 631.49L920.03 639.45" fill="none" stroke="#fba63c" stroke-width="2.1" stroke-linecap="round"/>
<path d="M1056.2 942.6C1026.41 860.38 986.05 598.16 989.7 510.6" fill="none" stroke="#f7923a" stroke-width="2"/>
<path d="M995.05 610.41L1005.79 625.84M995.05 610.41L987.65 627.69" fill="none" stroke="#fba63c" stroke-width="2.1" stroke-linecap="round"/>
<path d="M1170 615.5C1098.9 659.71 986.21 594.15 989.7 510.6" fill="none" stroke="#f7923a" stroke-width="2"/>
<path d="M1009.9 573.54L1026.94 581.48M1009.9 573.54L1012.19 592.2" fill="none" stroke="#fba63c" stroke-width="2.1" stroke-linecap="round"/>
<path d="M760 768.5C852.57 753.76 1090.37 665.02 1170 615.5" fill="none" stroke="#8a1538" stroke-width="2"/>
<path d="M1046.3 674.97L1034.61 689.69M1046.3 674.97L1027.62 672.86" fill="none" stroke="#8a1538" stroke-width="2.1" stroke-linecap="round"/>
<path d="M903.23 728.77L915.88 714.86M903.23 728.77L921.73 732.13" fill="none" stroke="#8a1538" stroke-width="2.1" stroke-linecap="round"/>
<path d="M760 768.5C848.16 754.46 1025.88 858.92 1056.2 942.6" fill="none" stroke="#8a1538" stroke-width="2"/>
<path d="M956.54 835.8L937.81 834.12M956.54 835.8L948.04 819.03" fill="none" stroke="#8a1538" stroke-width="2.1" stroke-linecap="round"/>
<path d="M861.48 785.73L880.09 783.11M861.48 785.73L873.57 800.13" fill="none" stroke="#8a1538" stroke-width="2.1" stroke-linecap="round"/>
<path d="M1170 615.5C1089.04 665.84 1023.83 853.27 1056.2 942.6" fill="none" stroke="#8a1538" stroke-width="2"/>
<path d="M1061.42 793.99L1056.97 775.73M1061.42 793.99L1074.55 780.54" fill="none" stroke="#8a1538" stroke-width="2.1" stroke-linecap="round"/>
<path d="M1096.65 704.1L1097.06 722.9M1096.65 704.1L1080.93 714.41" fill="none" stroke="#8a1538" stroke-width="2.1" stroke-linecap="round"/>
<text transform="translate(895.5 628.2) rotate(-48.7)" font-size="29.3" text-anchor="middle" dominant-baseline="central">0.003%</text>
<text transform="translate(1073.7 573.8) rotate(28.7)" font-size="29.3" text-anchor="middle" dominant-baseline="central">0.001%</text>
<text transform="translate(1024 658.4) rotate(-21.4)" font-size="29.3" text-anchor="middle" dominant-baseline="central">0.35%</text>
<text transform="translate(1069.4 710.55) rotate(-63.7)" font-size="29.3" text-anchor="middle" dominant-baseline="central">0.71%</text>
<text transform="translate(926.8 751.1) rotate(-20.5)" font-size="29.3" text-anchor="middle" dominant-baseline="central">0.98%</text>
<text transform="translate(858.5 818.9) rotate(31.1)" font-size="29.3" text-anchor="middle" dominant-baseline="central">0.54%</text>
<text transform="translate(967.3 809.7) rotate(31.2)" font-size="29.3" text-anchor="middle" dominant-baseline="central">0.23%</text>
<text transform="translate(1097.5 794.5) rotate(-64.8)" font-size="29.3" text-anchor="middle" dominant-baseline="central">1.28%</text>
<text transform="translate(979.1 627.7) rotate(-90)" font-size="29.3" text-anchor="middle">0.003%</text>
<text x="1190" y="600.5" font-size="29.4" font-style="italic">PDCD1</text>
<text x="647" y="798" font-size="29.4" font-style="italic">TRAC</text>
<text x="1046.4" y="1005.7" font-size="29.4" font-style="italic">TRBC</text>
<!-- panel d -->
<text x="1326" y="495.5" font-size="36.2" font-weight="bold" class="nb">d</text>
<circle cx="1486.9" cy="507.78" r="9.6" fill="#ff0000"/>
<text x="1504.39" y="519.41" font-size="29.3" font-style="italic">TRAC-TRBC</text>
<rect x="1479.1" y="535.58" width="15.6" height="15.6" fill="#ff0000"/>
<text x="1504.39" y="555.01" font-size="29.3" font-style="italic">TRAC-PDCD1</text>
<path d="M1486.9 569.17 L1496.9 586.67 L1476.9 586.67 Z" fill="#fba241"/>
<text x="1504.39" y="589.24" font-size="29.3" font-style="italic">TRBC-PDCD1</text>
<circle cx="1727.88" cy="505.04" r="9.6" fill="#fba241"/>
<text x="1749.14" y="519.41" font-size="29.3" font-style="italic">TRBC-TRAC</text>
<rect x="1720.08" y="533.86" width="15.6" height="15.6" fill="#000"/>
<text x="1749.14" y="555.01" font-size="29.3" font-style="italic">PDCD1-TRAC</text>
<path d="M1727.88 568.48 L1737.88 585.98 L1717.88 585.98 Z" fill="#000"/>
<text x="1749.14" y="589.24" font-size="29.3" font-style="italic">PDCD1-TRBC</text>
<path d="M1537.22 675.08 L1700.49 748.67 L1863.77 790.77" fill="none" stroke="#000" stroke-width="3" stroke-dasharray="6 6"/>
<path d="M1537.22 724.03 L1700.49 805.49 L1863.77 838.7" fill="none" stroke="#000" stroke-width="3" stroke-dasharray="6 6"/>
<path d="M1537.22 669.19 L1543.02 679.34 L1531.42 679.34 Z" fill="#000"/>
<path d="M1700.49 742.78 L1706.29 752.93 L1694.69 752.93 Z" fill="#000"/>
<path d="M1863.77 784.89 L1869.57 795.04 L1857.97 795.04 Z" fill="#000"/>
<rect x="1531.72" y="718.53" width="11" height="11" fill="#000"/>
<rect x="1694.99" y="799.99" width="11" height="11" fill="#000"/>
<rect x="1858.27" y="833.2" width="11" height="11" fill="#000"/>
<line x1="1537.22" y1="724.03" x2="1537.22" y2="817.13" stroke="#fba241" stroke-width="2.4"/>
<line x1="1531.72" y1="724.03" x2="1542.72" y2="724.03" stroke="#fba241" stroke-width="2.4"/>
<line x1="1531.72" y1="817.13" x2="1542.72" y2="817.13" stroke="#fba241" stroke-width="2.4"/>
<line x1="1700.49" y1="778.79" x2="1700.49" y2="846.23" stroke="#fba241" stroke-width="2.4"/>
<line x1="1694.99" y1="778.79" x2="1705.99" y2="778.79" stroke="#fba241" stroke-width="2.4"/>
<line x1="1694.99" y1="846.23" x2="1705.99" y2="846.23" stroke="#fba241" stroke-width="2.4"/>
<line x1="1863.77" y1="812.34" x2="1863.77" y2="844.52" stroke="#fba241" stroke-width="2.4"/>
<line x1="1858.27" y1="812.34" x2="1869.27" y2="812.34" stroke="#fba241" stroke-width="2.4"/>
<line x1="1858.27" y1="844.52" x2="1869.27" y2="844.52" stroke="#fba241" stroke-width="2.4"/>
<path d="M1537.22 771.95 L1700.49 813.71 L1863.77 829.8" fill="none" stroke="#fba241" stroke-width="3" stroke-dasharray="6 6"/>
<path d="M1537.22 798.31 L1700.49 854.78 L1863.77 872.58" fill="none" stroke="#fba241" stroke-width="3" stroke-dasharray="6 6"/>
<path d="M1537.22 766.06 L1543.02 776.21 L1531.42 776.21 Z" fill="#fba241"/>
<path d="M1700.49 807.82 L1706.29 817.97 L1694.69 817.97 Z" fill="#fba241"/>
<path d="M1863.77 823.91 L1869.57 834.06 L1857.97 834.06 Z" fill="#fba241"/>
<circle cx="1537.22" cy="798.31" r="5.5" fill="#fba241"/>
<circle cx="1700.49" cy="854.78" r="5.5" fill="#fba241"/>
<circle cx="1863.77" cy="872.58" r="5.5" fill="#fba241"/>
<line x1="1537.22" y1="800.02" x2="1537.22" y2="865.05" stroke="#f84146" stroke-width="2.4"/>
<line x1="1529.22" y1="800.02" x2="1545.22" y2="800.02" stroke="#f84146" stroke-width="2.4"/>
<line x1="1529.22" y1="865.05" x2="1545.22" y2="865.05" stroke="#f84146" stroke-width="2.4"/>
<line x1="1700.49" y1="846.23" x2="1700.49" y2="874.64" stroke="#f84146" stroke-width="2.4"/>
<line x1="1692.49" y1="846.23" x2="1708.49" y2="846.23" stroke="#f84146" stroke-width="2.4"/>
<line x1="1692.49" y1="874.64" x2="1708.49" y2="874.64" stroke="#f84146" stroke-width="2.4"/>
<line x1="1863.77" y1="850.34" x2="1863.77" y2="882.17" stroke="#f84146" stroke-width="2.4"/>
<line x1="1855.77" y1="850.34" x2="1871.77" y2="850.34" stroke="#f84146" stroke-width="2.4"/>
<line x1="1855.77" y1="882.17" x2="1871.77" y2="882.17" stroke="#f84146" stroke-width="2.4"/>
<line x1="1537.22" y1="835.96" x2="1537.22" y2="869.16" stroke="#f84146" stroke-width="2.4"/>
<line x1="1531.72" y1="835.96" x2="1542.72" y2="835.96" stroke="#f84146" stroke-width="2.4"/>
<line x1="1531.72" y1="869.16" x2="1542.72" y2="869.16" stroke="#f84146" stroke-width="2.4"/>
<line x1="1700.49" y1="851.36" x2="1700.49" y2="872.58" stroke="#f84146" stroke-width="2.4"/>
<line x1="1694.99" y1="851.36" x2="1705.99" y2="851.36" stroke="#f84146" stroke-width="2.4"/>
<line x1="1694.99" y1="872.58" x2="1705.99" y2="872.58" stroke="#f84146" stroke-width="2.4"/>
<line x1="1863.77" y1="868.48" x2="1863.77" y2="880.46" stroke="#f84146" stroke-width="2.4"/>
<line x1="1858.27" y1="868.48" x2="1869.27" y2="868.48" stroke="#f84146" stroke-width="2.4"/>
<line x1="1858.27" y1="880.46" x2="1869.27" y2="880.46" stroke="#f84146" stroke-width="2.4"/>
<path d="M1537.22 832.54 L1700.49 860.26 L1863.77 866.77" fill="none" stroke="#f84146" stroke-width="3" stroke-dasharray="6 6"/>
<path d="M1537.22 850.34 L1700.49 863.34 L1863.77 875.32" fill="none" stroke="#f84146" stroke-width="3" stroke-dasharray="6 6"/>
<rect x="1529.22" y="824.54" width="16" height="16" fill="#f84146"/>
<rect x="1692.49" y="852.26" width="16" height="16" fill="#f84146"/>
<rect x="1855.77" y="858.77" width="16" height="16" fill="#f84146"/>
<circle cx="1537.22" cy="850.34" r="5.7" fill="#f84146"/>
<circle cx="1700.49" cy="863.34" r="5.7" fill="#f84146"/>
<circle cx="1863.77" cy="875.32" r="5.7" fill="#f84146"/>
<line x1="1456.43" y1="549.96" x2="1456.43" y2="891.26" stroke="#000" stroke-width="2.6"/>
<line x1="1442.06" y1="889.96" x2="1946.27" y2="889.96" stroke="#000" stroke-width="2.6"/>
<line x1="1442.06" y1="551.26" x2="1456.43" y2="551.26" stroke="#000" stroke-width="2.6"/>
<line x1="1442.06" y1="636.5" x2="1456.43" y2="636.5" stroke="#000" stroke-width="2.6"/>
<line x1="1442.06" y1="721.05" x2="1456.43" y2="721.05" stroke="#000" stroke-width="2.6"/>
<line x1="1442.06" y1="805.59" x2="1456.43" y2="805.59" stroke="#000" stroke-width="2.6"/>
<line x1="1537.22" y1="889.96" x2="1537.22" y2="903.79" stroke="#000" stroke-width="2.6"/>
<line x1="1700.49" y1="889.96" x2="1700.49" y2="903.79" stroke="#000" stroke-width="2.6"/>
<line x1="1863.77" y1="889.96" x2="1863.77" y2="903.79" stroke="#000" stroke-width="2.6"/>
<text x="1422.2" y="561.16" font-size="29.4" text-anchor="end">2.0</text>
<text x="1422.2" y="646.4" font-size="29.4" text-anchor="end">1.5</text>
<text x="1422.2" y="730.95" font-size="29.4" text-anchor="end">1.0</text>
<text x="1422.2" y="815.49" font-size="29.4" text-anchor="end">0.5</text>
<text x="1417.07" y="899.36" font-size="29.4" text-anchor="end">0</text>
<text text-anchor="middle" transform="translate(1359.69 701.86) rotate(-90)" font-size="33">Translocation (%)</text>
<text x="1402.9" y="943.2" font-size="33">Days</text>
<text x="1542.85" y="939.05" font-size="29.4" text-anchor="middle">3</text>
<text x="1698.25" y="939.05" font-size="29.4" text-anchor="middle">7</text>
<text x="1867.69" y="939.05" font-size="29.4" text-anchor="middle">14</text>
<!-- panel e -->
<text x="-1" y="1076.8" font-size="36.2" font-weight="bold" class="nb">e</text>
<text x="171.42" y="1104.57" font-size="33">General translocations</text>
<circle cx="447.41" cy="1146.3" r="6.3" fill="#000"/>
<text x="489.24" y="1151.48" font-size="29.4" font-style="italic">TRAC</text>
<rect x="441.55" y="1175.62" width="13.2" height="13.2" fill="#000"/>
<text x="489.24" y="1190.37" font-size="29.4" font-style="italic">TRBC</text>
<path d="M448.15 1211.04 L455.15 1223.29 L441.15 1223.29 Z" fill="#000"/>
<text x="489.24" y="1230" font-size="29.4" font-style="italic">PDCD1</text>
<line x1="209.63" y1="1219.63" x2="209.63" y2="1297.41" stroke="#000" stroke-width="2.5"/>
<line x1="204.23" y1="1219.63" x2="215.03" y2="1219.63" stroke="#000" stroke-width="2.5"/>
<line x1="204.23" y1="1297.41" x2="215.03" y2="1297.41" stroke="#000" stroke-width="2.5"/>
<line x1="358.52" y1="1318.52" x2="358.52" y2="1365.19" stroke="#000" stroke-width="2.5"/>
<line x1="353.12" y1="1318.52" x2="363.92" y2="1318.52" stroke="#000" stroke-width="2.5"/>
<line x1="353.12" y1="1365.19" x2="363.92" y2="1365.19" stroke="#000" stroke-width="2.5"/>
<line x1="508.52" y1="1313.33" x2="508.52" y2="1399.63" stroke="#000" stroke-width="2.5"/>
<line x1="503.12" y1="1313.33" x2="513.92" y2="1313.33" stroke="#000" stroke-width="2.5"/>
<line x1="503.12" y1="1399.63" x2="513.92" y2="1399.63" stroke="#000" stroke-width="2.5"/>
<line x1="209.63" y1="1435.56" x2="209.63" y2="1472.22" stroke="#000" stroke-width="2.5"/>
<line x1="204.23" y1="1435.56" x2="215.03" y2="1435.56" stroke="#000" stroke-width="2.5"/>
<line x1="204.23" y1="1472.22" x2="215.03" y2="1472.22" stroke="#000" stroke-width="2.5"/>
<line x1="358.52" y1="1445.56" x2="358.52" y2="1472.22" stroke="#000" stroke-width="2.5"/>
<line x1="353.12" y1="1445.56" x2="363.92" y2="1445.56" stroke="#000" stroke-width="2.5"/>
<line x1="353.12" y1="1472.22" x2="363.92" y2="1472.22" stroke="#000" stroke-width="2.5"/>
<line x1="508.52" y1="1459.63" x2="508.52" y2="1477.04" stroke="#000" stroke-width="2.5"/>
<line x1="503.12" y1="1459.63" x2="513.92" y2="1459.63" stroke="#000" stroke-width="2.5"/>
<line x1="503.12" y1="1477.04" x2="513.92" y2="1477.04" stroke="#000" stroke-width="2.5"/>
<path d="M209.63 1258.89 L358.52 1342.22 L508.52 1356.3" fill="none" stroke="#000" stroke-width="2.4" stroke-dasharray="5.6 6"/>
<path d="M209.63 1377.04 L358.52 1408.52 L508.52 1424.81" fill="none" stroke="#000" stroke-width="2.4" stroke-dasharray="5.6 6"/>
<path d="M209.63 1453.33 L358.52 1458.52 L508.52 1468.52" fill="none" stroke="#000" stroke-width="2.4" stroke-dasharray="5.6 6"/>
<rect x="204.33" y="1253.59" width="10.6" height="10.6" fill="#000"/>
<rect x="353.22" y="1336.92" width="10.6" height="10.6" fill="#000"/>
<rect x="503.22" y="1351" width="10.6" height="10.6" fill="#000"/>
<path d="M209.63 1370.74 L215.83 1381.59 L203.43 1381.59 Z" fill="#000"/>
<path d="M358.52 1402.23 L364.72 1413.08 L352.32 1413.08 Z" fill="#000"/>
<path d="M508.52 1418.52 L514.72 1429.37 L502.32 1429.37 Z" fill="#000"/>
<circle cx="209.63" cy="1453.33" r="5.4" fill="#000"/>
<circle cx="358.52" cy="1458.52" r="5.4" fill="#000"/>
<circle cx="508.52" cy="1468.52" r="5.4" fill="#000"/>
<line x1="135.56" y1="1193.57" x2="135.56" y2="1536.27" stroke="#000" stroke-width="2.6"/>
<line x1="120.74" y1="1534.97" x2="584.44" y2="1534.97" stroke="#000" stroke-width="2.6"/>
<line x1="120.74" y1="1194.87" x2="135.56" y2="1194.87" stroke="#000" stroke-width="2.6"/>
<line x1="120.74" y1="1262.59" x2="135.56" y2="1262.59" stroke="#000" stroke-width="2.6"/>
<line x1="120.74" y1="1330.74" x2="135.56" y2="1330.74" stroke="#000" stroke-width="2.6"/>
<line x1="120.74" y1="1398.89" x2="135.56" y2="1398.89" stroke="#000" stroke-width="2.6"/>
<line x1="120.74" y1="1467.04" x2="135.56" y2="1467.04" stroke="#000" stroke-width="2.6"/>
<line x1="209.63" y1="1534.97" x2="209.63" y2="1548.52" stroke="#000" stroke-width="2.6"/>
<line x1="358.52" y1="1534.97" x2="358.52" y2="1548.52" stroke="#000" stroke-width="2.6"/>
<line x1="508.52" y1="1534.97" x2="508.52" y2="1548.52" stroke="#000" stroke-width="2.6"/>
<text x="106.17" y="1203.67" font-size="29.4" text-anchor="end">2.5</text>
<text x="106.17" y="1272.19" font-size="29.4" text-anchor="end">2.0</text>
<text x="106.17" y="1340.34" font-size="29.4" text-anchor="end">1.5</text>
<text x="106.17" y="1408.49" font-size="29.4" text-anchor="end">1.0</text>
<text x="106.17" y="1476.64" font-size="29.4" text-anchor="end">0.5</text>
<text x="92.83" y="1543.67" font-size="29.4" text-anchor="end">0</text>
<text text-anchor="middle" transform="translate(40.04 1363.33) rotate(-90)" font-size="33">Translocations (%)</text>
<text x="87.78" y="1585.56" font-size="33">Days</text>
<text x="207.41" y="1585.56" font-size="29.4" text-anchor="middle">3</text>
<text x="355.56" y="1585.56" font-size="29.4" text-anchor="middle">7</text>
<text x="515.56" y="1585.56" font-size="29.4" text-anchor="middle">14</text>
<text x="176.24" y="1214.74" font-size="29.3">2.04%</text>
<text x="322.16" y="1312.52" font-size="29.3">1.42%</text>
<text x="466.61" y="1296.97" font-size="29.3">1.31%</text>
<text x="177.72" y="1368.45" font-size="29.3">1.16%</text>
<text x="319.94" y="1396.97" font-size="29.3">0.94%</text>
<text x="519.94" y="1434.74" font-size="29.3">0.81%</text>
<text x="168.46" y="1510.3" font-size="29.3">0.60%</text>
<text x="316.24" y="1500.67" font-size="29.3">0.56%</text>
<text x="464.39" y="1515.49" font-size="29.3">0.49%</text>
<!-- panel f -->
<text x="690.37" y="1076" font-size="36.2" font-weight="bold" class="nb">f</text>
<rect x="762.59" y="1102" width="492.96" height="36.8" fill="#dae8f5"/>
<text x="773.6" y="1133.2" font-size="29.4">Choline metabolism in cancer</text>
<rect x="762.59" y="1158" width="369.63" height="36.5" fill="#bdd7ea"/>
<text x="773.6" y="1188.2" font-size="29.4">Pancreatic cancer</text>
<rect x="762.59" y="1213.7" width="354.61" height="36" fill="#a6d5f2"/>
<text x="773.6" y="1239.6" font-size="29.4">Non-small cell lung cancer</text>
<rect x="762.59" y="1270" width="354.61" height="36" fill="#6f99cc"/>
<text x="773.6" y="1298.3" font-size="29.4">Chronic myeloid leukemia</text>
<rect x="762.59" y="1325.3" width="354.61" height="36.7" fill="#97b0cc"/>
<text x="773.6" y="1351.9" font-size="29.4">Small cell lung cancer</text>
<rect x="762.59" y="1381.6" width="354.61" height="36.7" fill="#a9d0e5"/>
<text x="773.6" y="1408.2" font-size="29.4">Prostate cancer</text>
<rect x="762.59" y="1437.5" width="323.61" height="36.5" fill="#7ec8c2"/>
<text x="773.6" y="1461.3" font-size="29.4">Colorectal cancer</text>
<rect x="762.59" y="1493.3" width="200.01" height="36.7" fill="#96bdaf"/>
<text x="773.6" y="1521.6" font-size="29.4">Bladder cancer</text>
<line x1="762.59" y1="1083.7" x2="762.59" y2="1549.82" stroke="#000" stroke-width="3"/>
<line x1="761.29" y1="1548.52" x2="1303.33" y2="1548.52" stroke="#000" stroke-width="2.6"/>
<line x1="762.59" y1="1548.52" x2="762.59" y2="1554" stroke="#000" stroke-width="2.6"/>
<line x1="840" y1="1548.52" x2="840" y2="1554" stroke="#000" stroke-width="2.6"/>
<line x1="917.04" y1="1548.52" x2="917.04" y2="1554" stroke="#000" stroke-width="2.6"/>
<line x1="994.07" y1="1548.52" x2="994.07" y2="1554" stroke="#000" stroke-width="2.6"/>
<line x1="1071.11" y1="1548.52" x2="1071.11" y2="1554" stroke="#000" stroke-width="2.6"/>
<line x1="1148.15" y1="1548.52" x2="1148.15" y2="1554" stroke="#000" stroke-width="2.6"/>
<line x1="1225.19" y1="1548.52" x2="1225.19" y2="1554" stroke="#000" stroke-width="2.6"/>
<line x1="1302.59" y1="1548.52" x2="1302.59" y2="1554" stroke="#000" stroke-width="2.6"/>
<text x="765" y="1588.5" font-size="29.4" text-anchor="middle">0</text>
<text x="841.7" y="1588.5" font-size="29.4" text-anchor="middle">5</text>
<text x="919.2" y="1588.5" font-size="29.4" text-anchor="middle">10</text>
<text x="998.6" y="1588.5" font-size="29.4" text-anchor="middle">15</text>
<text x="1070.6" y="1588.5" font-size="29.4" text-anchor="middle">20</text>
<text x="1141.7" y="1588.5" font-size="29.4" text-anchor="middle">25</text>
<text x="1216.9" y="1588.5" font-size="29.4" text-anchor="middle">30</text>
<text x="1288.3" y="1588.5" font-size="29.4" text-anchor="middle">35</text>
<text x="1029.5" y="1636" font-size="33" text-anchor="middle">Gene counts</text>
<text text-anchor="middle" transform="translate(737.78 1318.89) rotate(-90)" font-size="33">Pathways</text>
<!-- panel g -->
<text x="1362.4" y="1077" font-size="36.2" font-weight="bold" class="nb">g</text>
<rect x="1700.37" y="1105.07" width="40.74" height="21.85" fill="#fdbf7f" stroke="#000" stroke-width="3.2"/>
<text x="1774" y="1125.07" font-size="29.3" font-style="italic">TRAC-TRBC</text>
<rect x="1700.37" y="1143.59" width="40.74" height="21.85" fill="#da8bfa" stroke="#000" stroke-width="3.2"/>
<text x="1774" y="1163.59" font-size="29.3" font-style="italic">TRAC-PDCD1</text>
<rect x="1492.85" y="1185.95" width="24.67" height="294.72" fill="#fdbf7f" stroke="#000" stroke-width="2.8"/>
<rect x="1529.89" y="1172.52" width="24.67" height="308.15" fill="#da8bfa" stroke="#000" stroke-width="2.8"/>
<rect x="1593.22" y="1239.64" width="24.67" height="241.03" fill="#fdbf7f" stroke="#000" stroke-width="2.8"/>
<rect x="1630.63" y="1226.22" width="24.3" height="254.45" fill="#da8bfa" stroke="#000" stroke-width="2.8"/>
<rect x="1693.59" y="1306.76" width="24.3" height="173.91" fill="#fdbf7f" stroke="#000" stroke-width="2.8"/>
<rect x="1730.26" y="1293.34" width="24.67" height="187.33" fill="#da8bfa" stroke="#000" stroke-width="2.8"/>
<rect x="1793.59" y="1199.37" width="24.67" height="281.3" fill="#fdbf7f" stroke="#000" stroke-width="2.8"/>
<rect x="1831" y="1279.91" width="24.3" height="200.76" fill="#da8bfa" stroke="#000" stroke-width="2.8"/>
<rect x="1893.96" y="1253.06" width="24.67" height="227.61" fill="#fdbf7f" stroke="#000" stroke-width="2.8"/>
<rect x="1931.37" y="1279.91" width="24.67" height="200.76" fill="#da8bfa" stroke="#000" stroke-width="2.8"/>
<line x1="1479.26" y1="1143.77" x2="1479.26" y2="1481.97" stroke="#000" stroke-width="2.6"/>
<line x1="1457.78" y1="1480.67" x2="1974.07" y2="1480.67" stroke="#000" stroke-width="2.6"/>
<line x1="1457.78" y1="1145.07" x2="1479.26" y2="1145.07" stroke="#000" stroke-width="2.6"/>
<line x1="1468.15" y1="1178.63" x2="1479.26" y2="1178.63" stroke="#000" stroke-width="2.6"/>
<line x1="1457.78" y1="1212.19" x2="1479.26" y2="1212.19" stroke="#000" stroke-width="2.6"/>
<line x1="1468.15" y1="1245.75" x2="1479.26" y2="1245.75" stroke="#000" stroke-width="2.6"/>
<line x1="1457.78" y1="1279.31" x2="1479.26" y2="1279.31" stroke="#000" stroke-width="2.6"/>
<line x1="1468.15" y1="1312.87" x2="1479.26" y2="1312.87" stroke="#000" stroke-width="2.6"/>
<line x1="1457.78" y1="1346.43" x2="1479.26" y2="1346.43" stroke="#000" stroke-width="2.6"/>
<line x1="1468.15" y1="1379.99" x2="1479.26" y2="1379.99" stroke="#000" stroke-width="2.6"/>
<line x1="1457.78" y1="1413.55" x2="1479.26" y2="1413.55" stroke="#000" stroke-width="2.6"/>
<line x1="1468.15" y1="1447.11" x2="1479.26" y2="1447.11" stroke="#000" stroke-width="2.6"/>
<line x1="1523.7" y1="1480.67" x2="1523.7" y2="1501.11" stroke="#000" stroke-width="2.6"/>
<line x1="1624.07" y1="1480.67" x2="1624.07" y2="1501.11" stroke="#000" stroke-width="2.6"/>
<line x1="1724.44" y1="1480.67" x2="1724.44" y2="1501.11" stroke="#000" stroke-width="2.6"/>
<line x1="1824.44" y1="1480.67" x2="1824.44" y2="1501.11" stroke="#000" stroke-width="2.6"/>
<line x1="1924.81" y1="1480.67" x2="1924.81" y2="1501.11" stroke="#000" stroke-width="2.6"/>
<text x="1454.09" y="1155.67" font-size="29.3" text-anchor="end">0.25</text>
<text x="1454.09" y="1222.79" font-size="29.3" text-anchor="end">0.20</text>
<text x="1454.09" y="1289.91" font-size="29.3" text-anchor="end">0.15</text>
<text x="1454.09" y="1357.03" font-size="29.3" text-anchor="end">0.10</text>
<text x="1454.09" y="1424.15" font-size="29.3" text-anchor="end">0.05</text>
<text x="1442.24" y="1499.46" font-size="29.3" text-anchor="end">0</text>
<text text-anchor="middle" transform="translate(1377.41 1315.19) rotate(-90)" font-size="33">Translocations (%)</text>
<text transform="translate(1534.46 1534.94) rotate(-20)" font-size="29.3" text-anchor="end"><tspan font-style="italic">Sp</tspan>Cas9</text>
<text transform="translate(1641.87 1534.94) rotate(-20)" font-size="29.3" text-anchor="end">e<tspan font-style="italic">Sp</tspan>Cas9</text>
<text transform="translate(1742.98 1534.94) rotate(-20)" font-size="29.3" text-anchor="end">FeCas9</text>
<text transform="translate(1842.72 1534.94) rotate(-20)" font-size="29.3" text-anchor="end">HF1</text>
<text transform="translate(1941.98 1534.94) rotate(-20)" font-size="29.3" text-anchor="end">Hypa</text>
</svg>
</body></html>
